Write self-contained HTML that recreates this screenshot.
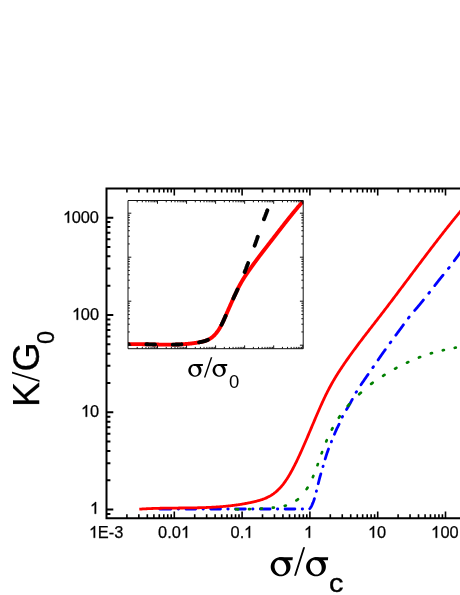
<!DOCTYPE html>
<html><head><meta charset="utf-8"><style>
html,body{margin:0;padding:0;background:#fff;}
body{width:460px;height:595px;position:relative;overflow:hidden;font-family:"Liberation Sans",sans-serif;color:#000;}
.t{position:absolute;white-space:nowrap;line-height:1;will-change:transform;}
.yl{font-size:16.4px;text-align:right;width:60px;left:39px;}
.xl{font-size:16.4px;text-align:center;width:60px;margin-left:-0.6px;}
.xl,.yl{-webkit-text-stroke:0.25px #000;}
</style></head><body>
<svg width="460" height="595" viewBox="0 0 460 595" style="position:absolute;left:0;top:0">
<rect width="460" height="595" fill="#fff"/>
<path d="M159.70,509.00 L160.20,509.00 L160.70,509.00 L161.20,509.00 L161.70,509.00 L162.19,509.00 L162.69,509.00 L163.19,509.00 L163.69,509.00 L164.19,509.00 L164.69,509.00 L165.19,509.00 L165.69,509.00 L166.19,509.00 L166.69,509.00 L167.19,509.00 L167.68,509.00 L168.18,509.00 L168.68,509.00 L169.18,509.00 L169.68,509.00 L170.18,509.00 L170.68,509.00 L171.18,509.00 L171.68,509.00 L172.17,509.00 L172.67,509.00 L173.17,509.00 L173.67,509.00 L174.17,509.00 L174.67,509.00 L175.17,509.00 L175.67,509.00 L176.17,509.00 L176.67,509.00 L177.16,509.00 L177.66,509.00 L178.16,509.00 L178.66,509.00 L179.16,509.00 L179.66,509.00 L180.16,509.00 L180.66,509.00 L181.16,509.00 L181.66,509.00 L182.15,509.00 L182.65,509.00 L183.15,509.00 L183.65,509.00 L184.15,509.00 L184.65,509.00 L185.15,509.00 L185.65,509.00 L186.15,509.00 L186.65,509.00 L187.14,509.00 L187.64,509.00 L188.14,509.00 L188.64,509.00 L189.14,509.00 L189.64,509.00 L190.14,509.00 L190.64,509.00 L191.14,509.00 L191.64,509.00 L192.13,509.00 L192.63,509.00 L193.13,509.00 L193.63,509.00 L194.13,509.00 L194.63,509.00 L195.13,509.00 L195.63,509.00 L196.13,509.00 L196.63,509.00 L197.12,509.00 L197.62,509.00 L198.12,509.00 L198.62,509.00 L199.12,509.00 L199.62,509.00 L200.12,509.00 L200.62,509.00 L201.12,509.00 L201.62,509.00 L202.11,509.00 L202.61,509.00 L203.11,509.00 L203.61,509.00 L204.11,509.00 L204.61,509.00 L205.11,509.00 L205.61,509.00 L206.11,509.00 L206.61,509.00 L207.10,509.00 L207.60,509.00 L208.10,509.00 L208.60,509.00 L209.10,509.00 L209.60,509.00 L210.10,509.00 L210.60,509.00 L211.10,509.00 L211.60,509.00 L212.09,509.00 L212.59,509.00 L213.09,509.00 L213.59,509.00 L214.09,509.00 L214.59,509.00 L215.09,509.00 L215.59,509.00 L216.09,509.00 L216.59,509.00 L217.08,509.00 L217.58,509.00 L218.08,509.00 L218.58,509.00 L219.08,509.00 L219.58,509.00 L220.08,509.00 L220.58,509.00 L221.08,509.00 L221.58,509.00 L222.07,509.00 L222.57,509.00 L223.07,509.00 L223.57,509.00 L224.07,509.00 L224.57,509.00 L225.07,509.00 L225.57,509.00 L226.07,509.00 L226.57,509.00 L227.06,509.00 L227.56,509.00 L228.06,509.00 L228.56,509.00 L229.06,509.00 L229.56,509.00 L230.06,509.00 L230.56,509.00 L231.06,509.00 L231.56,509.00 L232.05,509.00 L232.55,509.00 L233.05,509.00 L233.55,509.00 L234.05,509.00 L234.55,509.00 L235.05,509.00 L235.55,509.00 L236.05,509.00 L236.55,509.00 L237.04,509.00 L237.54,509.00 L238.04,509.00 L238.54,509.00 L239.04,509.00 L239.54,509.00 L240.04,509.00 L240.54,509.00 L241.04,509.00 L241.54,509.00 L242.03,509.00 L242.53,509.00 L243.03,509.00 L243.53,509.00 L244.03,509.00 L244.53,509.00 L245.03,509.00 L245.53,509.00 L246.03,509.00 L246.53,509.00 L247.02,509.00 L247.52,509.00 L248.02,509.00 L248.52,509.00 L249.02,509.00 L249.52,509.00 L250.02,509.00 L250.52,509.00 L251.02,509.00 L251.52,509.00 L252.01,509.00 L252.51,509.00 L253.01,509.00 L253.51,509.00 L254.01,509.00 L254.51,509.00 L255.01,509.00 L255.51,509.00 L256.01,509.00 L256.51,509.00 L257.00,509.00 L257.50,509.00 L258.00,509.00 L258.50,509.00 L259.00,509.00 L259.50,509.00 L260.00,509.00 L260.50,509.00 L261.00,509.00 L261.50,509.00 L262.00,509.00 L262.49,509.00 L262.99,509.00 L263.49,509.00 L263.99,509.00 L264.49,509.00 L264.99,509.00 L265.49,509.00 L265.99,509.00 L266.49,509.00 L266.98,509.00 L267.48,509.00 L267.98,509.00 L268.48,509.00 L268.98,509.00 L269.48,509.00 L269.98,509.00 L270.48,509.00 L270.98,509.00 L271.48,509.00 L271.97,509.00 L272.47,509.00 L272.97,509.00 L273.47,509.00 L273.97,509.00 L274.47,509.00 L274.97,509.00 L275.47,509.00 L275.97,509.00 L276.47,509.00 L276.96,509.00 L277.46,509.00 L277.96,509.00 L278.46,509.00 L278.96,509.00 L279.46,509.00 L279.96,509.00 L280.46,509.00 L280.96,509.00 L281.46,509.00 L281.95,509.00 L282.45,509.00 L282.95,509.00 L283.45,509.00 L283.95,509.00 L284.45,509.00 L284.95,509.00 L285.45,509.00 L285.95,509.00 L286.45,509.00 L286.94,509.00 L287.44,509.00 L287.94,509.00 L288.44,509.00 L288.94,509.00 L289.44,509.00 L289.94,509.00 L290.44,509.00 L290.94,509.00 L291.44,509.00 L291.93,509.00 L292.43,509.00 L292.93,509.00 L293.43,509.00 L293.93,509.00 L294.43,509.00 L294.93,509.00 L295.43,509.00 L295.93,509.00 L296.43,509.00 L296.92,509.00 L297.42,509.00 L297.92,509.00 L298.42,509.00 L298.92,509.00 L299.42,509.00 L299.92,509.00 L300.42,509.00 L300.92,509.00 L301.42,509.00 L301.91,509.00 L302.41,509.00 L302.91,509.00 L303.41,509.00 L303.91,509.00 L304.41,509.00 L304.91,509.00 L305.41,509.00 L305.91,509.00 L306.41,509.00 L306.90,509.00 L307.40,509.00 L307.90,509.00 L308.40,509.00 L308.90,509.00 L309.40,509.00 L309.77,508.62 L310.12,508.23 L310.44,507.82 L310.73,507.40 L311.00,506.95 L311.25,506.50 L311.49,506.03 L311.72,505.55 L311.94,505.07 L312.16,504.60 L312.37,504.12 L312.57,503.64 L312.78,503.16 L312.97,502.67 L313.17,502.19 L313.35,501.70 L313.54,501.21 L313.72,500.72 L313.89,500.22 L314.06,499.73 L314.22,499.23 L314.38,498.74 L314.54,498.24 L314.69,497.74 L314.84,497.24 L314.98,496.74 L315.12,496.23 L315.26,495.73 L315.39,495.22 L315.52,494.71 L315.65,494.21 L315.78,493.70 L315.91,493.19 L316.04,492.69 L316.17,492.18 L316.30,491.67 L316.43,491.17 L316.56,490.66 L316.69,490.15 L316.82,489.65 L316.95,489.14 L317.07,488.63 L317.19,488.13 L317.32,487.62 L317.44,487.11 L317.56,486.60 L317.68,486.09 L317.80,485.58 L317.92,485.07 L318.04,484.57 L318.16,484.06 L318.29,483.55 L318.41,483.04 L318.53,482.53 L318.65,482.02 L318.78,481.52 L318.91,481.01 L319.03,480.50 L319.16,480.00 L319.29,479.49 L319.42,478.99 L319.56,478.48 L319.69,477.98 L319.83,477.47 L319.97,476.97 L320.11,476.47 L320.25,475.96 L320.39,475.46 L320.54,474.96 L320.68,474.45 L320.83,473.95 L320.97,473.45 L321.12,472.95 L321.27,472.45 L321.41,471.95 L321.56,471.44 L321.71,470.94 L321.86,470.44 L322.01,469.94 L322.16,469.44 L322.31,468.94 L322.46,468.44 L322.60,467.94 L322.75,467.44 L322.90,466.93 L323.05,466.43 L323.20,465.93 L323.34,465.43 L323.49,464.93 L323.63,464.42 L323.78,463.92 L323.92,463.42 L324.07,462.92 L324.21,462.41 L324.35,461.91 L324.50,461.41 L324.64,460.90 L324.79,460.40 L324.93,459.90 L325.08,459.40 L325.23,458.90 L325.38,458.39 L325.53,457.89 L325.68,457.39 L325.83,456.89 L325.98,456.39 L326.13,455.89 L326.29,455.39 L326.45,454.90 L326.61,454.40 L326.77,453.90 L326.93,453.41 L327.09,452.91 L327.26,452.42 L327.43,451.93 L327.61,451.43 L327.78,450.94 L327.96,450.45 L328.14,449.96 L328.32,449.47 L328.51,448.98 L328.69,448.49 L328.88,448.01 L329.07,447.52 L329.26,447.03 L329.45,446.55 L329.65,446.06 L329.84,445.57 L330.04,445.09 L330.23,444.60 L330.43,444.12 L330.62,443.63 L330.82,443.15 L331.01,442.66 L331.21,442.18 L331.40,441.69 L331.60,441.21 L331.79,440.72 L331.99,440.24 L332.18,439.75 L332.37,439.26 L332.57,438.78 L332.76,438.29 L332.96,437.81 L333.15,437.32 L333.35,436.84 L333.55,436.35 L333.74,435.87 L333.94,435.38 L334.14,434.90 L334.34,434.42 L334.54,433.94 L334.74,433.45 L334.95,432.97 L335.15,432.49 L335.36,432.01 L335.57,431.53 L335.78,431.05 L335.99,430.58 L336.20,430.10 L336.41,429.62 L336.63,429.15 L336.85,428.68 L337.08,428.20 L337.31,427.74 L337.54,427.27 L337.78,426.80 L338.02,426.34 L338.26,425.87 L338.50,425.41 L338.74,424.94 L338.97,424.48 L339.20,424.01 L339.43,423.54 L339.65,423.06 L339.87,422.59 L340.08,422.11 L340.29,421.63 L340.49,421.15 L340.70,420.67 L340.90,420.18 L341.11,419.70 L341.32,419.22 L341.52,418.74 L341.73,418.26 L341.95,417.79 L342.16,417.31 L342.39,416.84 L342.61,416.37 L342.85,415.91 L343.09,415.44 L343.33,414.98 L343.58,414.52 L343.83,414.07 L344.08,413.61 L344.34,413.16 L344.60,412.71 L344.87,412.25 L345.13,411.80 L345.40,411.35 L345.67,410.91 L345.94,410.46 L346.21,410.01 L346.48,409.56 L346.76,409.12 L347.03,408.67 L347.30,408.22 L347.57,407.77 L347.84,407.33 L348.11,406.88 L348.38,406.43 L348.65,405.98 L348.91,405.53 L349.17,405.07 L349.43,404.62 L349.69,404.16 L349.94,403.71 L350.20,403.25 L350.45,402.79 L350.70,402.33 L350.94,401.87 L351.19,401.41 L351.44,400.95 L351.68,400.48 L351.93,400.02 L352.17,399.56 L352.41,399.10 L352.66,398.63 L352.90,398.17 L353.15,397.71 L353.39,397.24 L353.64,396.78 L353.88,396.32 L354.13,395.86 L354.38,395.40 L354.63,394.94 L354.88,394.49 L355.14,394.03 L355.39,393.57 L355.65,393.12 L355.91,392.67 L356.17,392.22 L356.44,391.77 L356.71,391.32 L356.98,390.88 L357.25,390.43 L357.53,389.99 L357.81,389.55 L358.09,389.11 L358.37,388.67 L358.65,388.23 L358.94,387.79 L359.22,387.36 L359.51,386.92 L359.80,386.49 L360.09,386.05 L360.39,385.62 L360.68,385.18 L360.97,384.75 L361.27,384.32 L361.56,383.89 L361.86,383.45 L362.16,383.02 L362.45,382.59 L362.75,382.16 L363.05,381.73 L363.34,381.30 L363.64,380.87 L363.93,380.43 L364.23,380.00 L364.52,379.57 L364.81,379.14 L365.11,378.71 L365.40,378.28 L365.70,377.84 L365.99,377.41 L366.29,376.98 L366.59,376.55 L366.89,376.12 L367.18,375.69 L367.48,375.26 L367.78,374.84 L368.08,374.41 L368.38,373.98 L368.68,373.55 L368.98,373.12 L369.28,372.69 L369.57,372.26 L369.87,371.84 L370.17,371.41 L370.47,370.98 L370.77,370.55 L371.07,370.12 L371.37,369.69 L371.67,369.26 L371.97,368.83 L372.27,368.41 L372.56,367.98 L372.86,367.55 L373.16,367.12 L373.45,366.69 L373.75,366.26 L374.05,365.82 L374.34,365.39 L374.64,364.96 L374.93,364.53 L375.23,364.10 L375.52,363.67 L375.82,363.24 L376.11,362.80 L376.41,362.37 L376.70,361.94 L376.99,361.51 L377.29,361.08 L377.58,360.64 L377.88,360.21 L378.17,359.78 L378.47,359.35 L378.76,358.92 L379.06,358.49 L379.35,358.06 L379.65,357.63 L379.95,357.20 L380.24,356.77 L380.54,356.34 L380.84,355.91 L381.14,355.48 L381.44,355.05 L381.74,354.62 L382.04,354.19 L382.34,353.76 L382.64,353.34 L382.94,352.91 L383.24,352.48 L383.54,352.06 L383.84,351.63 L384.15,351.21 L384.45,350.78 L384.75,350.35 L385.06,349.93 L385.36,349.50 L385.67,349.08 L385.97,348.66 L386.28,348.23 L386.58,347.81 L386.89,347.38 L387.19,346.96 L387.50,346.54 L387.81,346.11 L388.11,345.69 L388.42,345.26 L388.73,344.84 L389.03,344.42 L389.34,344.00 L389.65,343.57 L389.96,343.15 L390.26,342.73 L390.57,342.30 L390.88,341.88 L391.18,341.46 L391.49,341.04 L391.80,340.62 L392.11,340.19 L392.42,339.77 L392.73,339.35 L393.04,338.93 L393.35,338.51 L393.66,338.09 L393.97,337.67 L394.28,337.25 L394.59,336.83 L394.90,336.40 L395.21,335.98 L395.52,335.56 L395.83,335.14 L396.14,334.72 L396.45,334.30 L396.76,333.88 L397.07,333.46 L397.38,333.04 L397.69,332.62 L398.00,332.20 L398.32,331.78 L398.63,331.36 L398.94,330.94 L399.25,330.52 L399.56,330.10 L399.87,329.68 L400.18,329.26 L400.49,328.84 L400.80,328.42 L401.10,327.99 L401.41,327.57 L401.72,327.15 L402.03,326.72 L402.33,326.30 L402.64,325.88 L402.94,325.45 L403.25,325.03 L403.56,324.60 L403.86,324.18 L404.17,323.76 L404.48,323.33 L404.78,322.91 L405.09,322.49 L405.40,322.06 L405.71,321.64 L406.02,321.22 L406.33,320.80 L406.64,320.38 L406.95,319.96 L407.26,319.54 L407.58,319.12 L407.89,318.71 L408.21,318.29 L408.53,317.88 L408.84,317.46 L409.17,317.05 L409.49,316.64 L409.81,316.23 L410.14,315.83 L410.47,315.42 L410.80,315.02 L411.13,314.61 L411.46,314.21 L411.80,313.81 L412.13,313.41 L412.47,313.01 L412.81,312.61 L413.15,312.22 L413.49,311.82 L413.83,311.42 L414.17,311.03 L414.52,310.63 L414.86,310.24 L415.20,309.84 L415.54,309.45 L415.89,309.05 L416.23,308.66 L416.57,308.26 L416.91,307.86 L417.25,307.47 L417.59,307.07 L417.93,306.67 L418.27,306.27 L418.61,305.87 L418.94,305.47 L419.28,305.07 L419.61,304.67 L419.94,304.26 L420.27,303.86 L420.60,303.46 L420.93,303.05 L421.26,302.65 L421.59,302.24 L421.92,301.83 L422.25,301.43 L422.58,301.02 L422.91,300.61 L423.23,300.21 L423.56,299.80 L423.89,299.39 L424.22,298.98 L424.54,298.58 L424.87,298.17 L425.19,297.76 L425.52,297.35 L425.85,296.94 L426.17,296.53 L426.50,296.12 L426.82,295.71 L427.15,295.30 L427.47,294.89 L427.79,294.48 L428.12,294.07 L428.44,293.66 L428.77,293.25 L429.09,292.84 L429.42,292.43 L429.74,292.02 L430.06,291.61 L430.39,291.20 L430.71,290.79 L431.03,290.38 L431.35,289.97 L431.67,289.55 L431.99,289.14 L432.31,288.73 L432.63,288.32 L432.95,287.90 L433.27,287.49 L433.59,287.07 L433.91,286.66 L434.23,286.25 L434.55,285.83 L434.87,285.42 L435.19,285.01 L435.51,284.59 L435.83,284.18 L436.15,283.77 L436.47,283.35 L436.79,282.94 L437.11,282.53 L437.43,282.12 L437.76,281.71 L438.08,281.29 L438.40,280.88 L438.73,280.47 L439.05,280.06 L439.37,279.65 L439.70,279.25 L440.03,278.84 L440.36,278.43 L440.68,278.02 L441.01,277.62 L441.34,277.21 L441.67,276.81 L442.00,276.40 L442.33,276.00 L442.67,275.59 L443.00,275.19 L443.33,274.79 L443.66,274.38 L443.99,273.98 L444.32,273.57 L444.66,273.17 L444.99,272.76 L445.32,272.36 L445.65,271.95 L445.98,271.55 L446.31,271.14 L446.64,270.74 L446.96,270.33 L447.29,269.92 L447.62,269.51 L447.94,269.10 L448.27,268.69 L448.59,268.28 L448.91,267.87 L449.23,267.46 L449.55,267.05 L449.87,266.63 L450.19,266.22 L450.50,265.80 L450.82,265.39 L451.13,264.97 L451.45,264.55 L451.76,264.13 L452.07,263.71 L452.38,263.29 L452.70,262.87 L453.01,262.45 L453.32,262.03 L453.63,261.61 L453.94,261.19 L454.25,260.77 L454.56,260.35 L454.87,259.93 L455.18,259.51 L455.49,259.09 L455.80,258.67 L456.11,258.25 L456.42,257.82 L456.73,257.40 L457.04,256.98 L457.35,256.56 L457.66,256.15 L457.97,255.72 L458.28,255.30 L458.59,254.88 L458.90,254.46 L459.21,254.04 L459.53,253.62 L459.84,253.21 L460.16,252.79 L460.48,252.38 L460.80,251.96 L461.12,251.55 L461.44,251.14 L461.76,250.72 L462.08,250.31 L462.40,249.90 L462.72,249.49 L463.05,249.08 L463.37,248.67 L463.70,248.26 L464.02,247.85 L464.35,247.44 L464.68,247.04 L465.00,246.63 L465.33,246.22 L465.66,245.82 L465.99,245.41 L466.33,245.01 L466.66,244.60 L466.99,244.20 L467.33,243.80 L467.66,243.40 L468.00,243.00" fill="none" stroke="#0000ff" stroke-width="2.8" stroke-linecap="round" stroke-linejoin="round" stroke-dasharray="0.00 1.40 9.80 7.30 0.40 7.30 9.80 7.30 0.40 7.30 9.80 7.30 0.40 7.30 9.80 7.30 0.40 7.30 9.80 7.30 0.40 7.30 9.80 7.30 0.40 7.30 11.11 7.46 0.50 7.43 10.24 7.49 0.53 7.48 10.48 7.65 0.65 7.65 11.09 7.70 0.75 7.99 11.69 7.92 0.92 8.17 12.49 8.29 1.09 8.25 12.58 8.35 1.16 8.39 12.82 8.39 1.25 8.67 13.62 8.55 1.28 8.50 13.29 8.60 1.26 8.42 12.95 8.58 0.94 50.00"/>
<path d="M235.80,509.30 L236.18,509.30 L236.57,509.30 L236.95,509.30 L237.34,509.30 L237.72,509.30 L238.11,509.30 L238.49,509.30 L238.87,509.30 L239.26,509.30 L239.64,509.29 L240.03,509.29 L240.41,509.29 L240.79,509.28 L241.18,509.28 L241.56,509.27 L241.95,509.27 L242.33,509.26 L242.72,509.25 L243.10,509.25 L243.48,509.24 L243.87,509.23 L244.25,509.22 L244.64,509.22 L245.02,509.21 L245.41,509.20 L245.79,509.19 L246.17,509.18 L246.56,509.17 L246.94,509.16 L247.33,509.15 L247.71,509.14 L248.09,509.13 L248.48,509.13 L248.86,509.12 L249.25,509.11 L249.63,509.10 L250.01,509.09 L250.40,509.08 L250.78,509.06 L251.17,509.05 L251.55,509.04 L251.93,509.03 L252.32,509.01 L252.70,509.00 L253.09,508.98 L253.47,508.97 L253.85,508.95 L254.24,508.94 L254.62,508.92 L255.01,508.90 L255.39,508.89 L255.77,508.87 L256.16,508.85 L256.54,508.83 L256.93,508.81 L257.31,508.79 L257.69,508.77 L258.08,508.75 L258.46,508.73 L258.84,508.71 L259.23,508.69 L259.61,508.67 L259.99,508.65 L260.38,508.63 L260.76,508.61 L261.15,508.59 L261.53,508.56 L261.91,508.54 L262.30,508.52 L262.68,508.49 L263.06,508.47 L263.45,508.44 L263.83,508.42 L264.21,508.39 L264.60,508.37 L264.98,508.34 L265.36,508.31 L265.75,508.28 L266.13,508.25 L266.51,508.22 L266.90,508.19 L267.28,508.16 L267.66,508.13 L268.05,508.10 L268.43,508.07 L268.81,508.04 L269.20,508.00 L269.58,507.97 L269.96,507.93 L270.34,507.90 L270.73,507.86 L271.11,507.82 L271.49,507.79 L271.87,507.75 L272.26,507.71 L272.64,507.67 L273.02,507.63 L273.40,507.59 L273.78,507.55 L274.16,507.51 L274.55,507.46 L274.93,507.42 L275.32,507.37 L275.70,507.33 L276.08,507.28 L276.47,507.23 L276.86,507.18 L277.24,507.13 L277.63,507.08 L278.01,507.03 L278.40,506.97 L278.78,506.92 L279.16,506.86 L279.55,506.80 L279.93,506.74 L280.31,506.68 L280.69,506.62 L281.07,506.55 L281.45,506.48 L281.83,506.42 L282.21,506.35 L282.58,506.27 L282.95,506.20 L283.33,506.12 L283.70,506.04 L284.07,505.96 L284.43,505.88 L284.80,505.80 L285.16,505.71 L285.53,505.62 L285.89,505.52 L286.25,505.42 L286.62,505.31 L286.98,505.19 L287.35,505.07 L287.72,504.94 L288.08,504.81 L288.45,504.67 L288.81,504.53 L289.18,504.38 L289.54,504.23 L289.90,504.07 L290.26,503.91 L290.62,503.74 L290.98,503.57 L291.34,503.40 L291.69,503.22 L292.05,503.04 L292.40,502.86 L292.74,502.67 L293.09,502.48 L293.43,502.29 L293.77,502.09 L294.10,501.90 L294.43,501.70 L294.76,501.49 L295.09,501.29 L295.41,501.09 L295.72,500.88 L296.03,500.67 L296.34,500.46 L296.64,500.25 L296.94,500.04 L297.23,499.83 L297.52,499.61 L297.81,499.39 L298.10,499.16 L298.38,498.92 L298.67,498.68 L298.95,498.43 L299.23,498.17 L299.51,497.92 L299.78,497.65 L300.06,497.38 L300.33,497.11 L300.60,496.83 L300.87,496.55 L301.14,496.27 L301.40,495.98 L301.66,495.69 L301.92,495.39 L302.18,495.09 L302.44,494.79 L302.69,494.49 L302.94,494.18 L303.19,493.87 L303.44,493.56 L303.68,493.25 L303.92,492.93 L304.16,492.62 L304.40,492.30 L304.63,491.98 L304.87,491.66 L305.10,491.35 L305.32,491.03 L305.55,490.71 L305.77,490.39 L305.99,490.07 L306.21,489.75 L306.42,489.43 L306.63,489.11 L306.84,488.79 L307.05,488.48 L307.25,488.16 L307.46,487.84 L307.65,487.52 L307.85,487.20 L308.05,486.87 L308.24,486.54 L308.43,486.21 L308.62,485.88 L308.80,485.55 L308.99,485.21 L309.17,484.87 L309.35,484.53 L309.53,484.19 L309.70,483.85 L309.88,483.50 L310.05,483.16 L310.22,482.81 L310.39,482.46 L310.56,482.11 L310.73,481.76 L310.90,481.41 L311.06,481.06 L311.22,480.71 L311.39,480.36 L311.55,480.00 L311.71,479.65 L311.87,479.30 L312.03,478.94 L312.18,478.59 L312.34,478.24 L312.49,477.88 L312.65,477.53 L312.80,477.18 L312.96,476.83 L313.11,476.47 L313.26,476.12 L313.41,475.77 L313.56,475.42 L313.71,475.06 L313.86,474.71 L314.00,474.35 L314.14,474.00 L314.29,473.64 L314.43,473.28 L314.57,472.93 L314.71,472.57 L314.84,472.21 L314.98,471.85 L315.12,471.49 L315.25,471.13 L315.39,470.77 L315.52,470.41 L315.66,470.05 L315.79,469.69 L315.92,469.33 L316.05,468.97 L316.19,468.60 L316.32,468.24 L316.45,467.88 L316.58,467.52 L316.71,467.16 L316.84,466.80 L316.98,466.44 L317.11,466.07 L317.24,465.71 L317.37,465.35 L317.50,464.99 L317.64,464.63 L317.77,464.27 L317.90,463.91 L318.03,463.55 L318.15,463.18 L318.28,462.82 L318.41,462.46 L318.54,462.10 L318.66,461.73 L318.79,461.37 L318.92,461.01 L319.04,460.65 L319.17,460.28 L319.29,459.92 L319.42,459.56 L319.54,459.19 L319.67,458.83 L319.79,458.47 L319.92,458.10 L320.04,457.74 L320.17,457.38 L320.30,457.01 L320.42,456.65 L320.55,456.29 L320.68,455.92 L320.80,455.56 L320.93,455.20 L321.06,454.84 L321.19,454.48 L321.32,454.11 L321.45,453.75 L321.58,453.39 L321.71,453.03 L321.85,452.67 L321.98,452.31 L322.12,451.95 L322.25,451.59 L322.38,451.23 L322.52,450.87 L322.65,450.51 L322.79,450.15 L322.92,449.79 L323.06,449.43 L323.19,449.07 L323.33,448.71 L323.47,448.35 L323.60,447.99 L323.74,447.63 L323.88,447.27 L324.02,446.92 L324.16,446.56 L324.30,446.20 L324.44,445.84 L324.58,445.48 L324.72,445.13 L324.86,444.77 L325.00,444.41 L325.15,444.06 L325.29,443.70 L325.44,443.34 L325.58,442.99 L325.73,442.63 L325.87,442.28 L326.02,441.92 L326.17,441.57 L326.32,441.22 L326.47,440.87 L326.62,440.51 L326.78,440.16 L326.93,439.81 L327.08,439.46 L327.24,439.10 L327.39,438.75 L327.55,438.40 L327.70,438.05 L327.86,437.70 L328.02,437.35 L328.18,437.00 L328.34,436.65 L328.50,436.30 L328.66,435.95 L328.82,435.60 L328.98,435.25 L329.15,434.90 L329.31,434.55 L329.48,434.21 L329.64,433.86 L329.81,433.51 L329.98,433.17 L330.15,432.82 L330.32,432.47 L330.49,432.13 L330.66,431.79 L330.83,431.44 L331.00,431.10 L331.18,430.76 L331.35,430.42 L331.53,430.08 L331.71,429.74 L331.88,429.40 L332.06,429.06 L332.24,428.72 L332.42,428.38 L332.61,428.05 L332.79,427.71 L332.97,427.37 L333.16,427.04 L333.35,426.70 L333.53,426.36 L333.72,426.03 L333.91,425.70 L334.10,425.36 L334.30,425.03 L334.49,424.69 L334.68,424.36 L334.88,424.03 L335.07,423.70 L335.27,423.37 L335.47,423.04 L335.67,422.71 L335.87,422.38 L336.07,422.05 L336.27,421.72 L336.47,421.39 L336.68,421.07 L336.88,420.74 L337.09,420.41 L337.30,420.09 L337.50,419.77 L337.71,419.44 L337.92,419.12 L338.13,418.80 L338.34,418.48 L338.55,418.16 L338.76,417.84 L338.98,417.52 L339.19,417.20 L339.41,416.88 L339.62,416.57 L339.84,416.25 L340.06,415.94 L340.27,415.62 L340.49,415.31 L340.72,415.00 L340.94,414.68 L341.16,414.37 L341.39,414.06 L341.61,413.75 L341.84,413.44 L342.07,413.13 L342.30,412.82 L342.53,412.51 L342.76,412.20 L342.99,411.89 L343.22,411.59 L343.46,411.28 L343.69,410.97 L343.93,410.67 L344.16,410.36 L344.40,410.06 L344.64,409.76 L344.88,409.46 L345.12,409.16 L345.36,408.85 L345.61,408.56 L345.85,408.26 L346.09,407.96 L346.34,407.66 L346.58,407.37 L346.83,407.07 L347.08,406.78 L347.32,406.48 L347.57,406.19 L347.82,405.90 L348.07,405.61 L348.32,405.32 L348.57,405.03 L348.82,404.74 L349.08,404.46 L349.33,404.17 L349.59,403.89 L349.84,403.60 L350.10,403.32 L350.36,403.04 L350.62,402.76 L350.88,402.47 L351.14,402.19 L351.41,401.91 L351.67,401.63 L351.94,401.36 L352.20,401.08 L352.47,400.80 L352.74,400.53 L353.01,400.25 L353.28,399.98 L353.55,399.70 L353.82,399.43 L354.09,399.15 L354.36,398.88 L354.64,398.61 L354.91,398.34 L355.19,398.07 L355.46,397.80 L355.74,397.53 L356.01,397.26 L356.29,396.99 L356.57,396.73 L356.85,396.46 L357.12,396.19 L357.40,395.93 L357.68,395.66 L357.96,395.40 L358.24,395.14 L358.52,394.87 L358.80,394.61 L359.08,394.35 L359.36,394.08 L359.64,393.82 L359.92,393.56 L360.21,393.30 L360.49,393.04 L360.77,392.78 L361.05,392.52 L361.34,392.26 L361.62,392.00 L361.90,391.75 L362.19,391.49 L362.47,391.23 L362.76,390.97 L363.05,390.71 L363.33,390.46 L363.62,390.20 L363.91,389.95 L364.20,389.69 L364.49,389.44 L364.78,389.18 L365.07,388.93 L365.36,388.68 L365.65,388.42 L365.94,388.17 L366.23,387.92 L366.53,387.67 L366.82,387.42 L367.11,387.18 L367.41,386.93 L367.70,386.68 L368.00,386.44 L368.30,386.19 L368.60,385.95 L368.89,385.71 L369.19,385.47 L369.49,385.22 L369.79,384.99 L370.09,384.75 L370.39,384.51 L370.70,384.27 L371.00,384.04 L371.30,383.81 L371.61,383.57 L371.91,383.34 L372.22,383.11 L372.52,382.88 L372.83,382.66 L373.14,382.43 L373.45,382.20 L373.76,381.98 L374.07,381.76 L374.39,381.53 L374.70,381.31 L375.01,381.09 L375.33,380.87 L375.65,380.66 L375.96,380.44 L376.28,380.22 L376.60,380.01 L376.92,379.79 L377.24,379.58 L377.56,379.36 L377.88,379.15 L378.20,378.94 L378.52,378.73 L378.84,378.52 L379.17,378.31 L379.49,378.10 L379.81,377.89 L380.14,377.68 L380.46,377.47 L380.79,377.26 L381.11,377.06 L381.44,376.85 L381.76,376.65 L382.09,376.44 L382.41,376.23 L382.74,376.03 L383.06,375.83 L383.39,375.62 L383.71,375.42 L384.04,375.21 L384.36,375.01 L384.69,374.81 L385.02,374.60 L385.34,374.40 L385.67,374.20 L386.00,374.00 L386.32,373.80 L386.65,373.60 L386.98,373.40 L387.31,373.20 L387.64,373.00 L387.97,372.80 L388.30,372.60 L388.63,372.40 L388.96,372.21 L389.29,372.01 L389.62,371.82 L389.95,371.62 L390.28,371.43 L390.61,371.23 L390.95,371.04 L391.28,370.84 L391.61,370.65 L391.94,370.46 L392.28,370.27 L392.61,370.08 L392.95,369.89 L393.28,369.70 L393.62,369.51 L393.95,369.33 L394.29,369.14 L394.62,368.95 L394.96,368.77 L395.30,368.58 L395.63,368.40 L395.97,368.22 L396.31,368.03 L396.65,367.85 L396.98,367.67 L397.32,367.49 L397.66,367.31 L398.00,367.13 L398.34,366.95 L398.68,366.78 L399.02,366.60 L399.37,366.42 L399.71,366.25 L400.05,366.07 L400.39,365.90 L400.73,365.72 L401.08,365.55 L401.42,365.37 L401.76,365.20 L402.11,365.03 L402.45,364.86 L402.80,364.69 L403.14,364.52 L403.49,364.35 L403.83,364.18 L404.18,364.01 L404.53,363.85 L404.87,363.68 L405.22,363.51 L405.57,363.35 L405.91,363.18 L406.26,363.02 L406.61,362.86 L406.96,362.69 L407.30,362.53 L407.65,362.37 L408.00,362.21 L408.35,362.05 L408.70,361.89 L409.05,361.73 L409.40,361.57 L409.75,361.41 L410.10,361.25 L410.45,361.09 L410.80,360.93 L411.15,360.77 L411.50,360.62 L411.85,360.46 L412.20,360.30 L412.55,360.15 L412.91,359.99 L413.26,359.84 L413.61,359.69 L413.96,359.53 L414.32,359.38 L414.67,359.23 L415.02,359.08 L415.38,358.93 L415.73,358.78 L416.09,358.63 L416.44,358.49 L416.80,358.34 L417.16,358.20 L417.51,358.05 L417.87,357.91 L418.23,357.77 L418.58,357.63 L418.94,357.49 L419.30,357.35 L419.66,357.22 L420.01,357.08 L420.37,356.95 L420.73,356.81 L421.09,356.68 L421.45,356.54 L421.81,356.41 L422.17,356.28 L422.54,356.15 L422.90,356.02 L423.26,355.89 L423.62,355.76 L423.98,355.63 L424.35,355.51 L424.71,355.38 L425.08,355.25 L425.44,355.13 L425.80,355.01 L426.17,354.88 L426.53,354.76 L426.90,354.64 L427.26,354.52 L427.63,354.40 L427.99,354.28 L428.36,354.16 L428.73,354.05 L429.09,353.93 L429.46,353.82 L429.83,353.70 L430.19,353.59 L430.56,353.48 L430.93,353.37 L431.30,353.26 L431.67,353.15 L432.03,353.04 L432.40,352.94 L432.77,352.83 L433.14,352.73 L433.51,352.62 L433.88,352.52 L434.25,352.42 L434.62,352.32 L434.99,352.21 L435.36,352.11 L435.73,352.01 L436.11,351.92 L436.48,351.82 L436.85,351.72 L437.22,351.62 L437.59,351.53 L437.97,351.43 L438.34,351.34 L438.71,351.24 L439.09,351.15 L439.46,351.06 L439.83,350.97 L440.21,350.87 L440.58,350.78 L440.95,350.69 L441.33,350.61 L441.70,350.52 L442.07,350.43 L442.45,350.34 L442.82,350.26 L443.20,350.17 L443.57,350.08 L443.95,350.00 L444.32,349.91 L444.70,349.83 L445.07,349.75 L445.45,349.67 L445.82,349.58 L446.20,349.50 L446.57,349.42 L446.95,349.34 L447.32,349.26 L447.70,349.18 L448.08,349.10 L448.45,349.02 L448.83,348.95 L449.21,348.87 L449.58,348.79 L449.96,348.72 L450.34,348.64 L450.71,348.57 L451.09,348.49 L451.47,348.42 L451.84,348.35 L452.22,348.27 L452.60,348.20 L452.98,348.13 L453.35,348.06 L453.73,347.99 L454.11,347.92 L454.49,347.85 L454.87,347.78 L455.24,347.71 L455.62,347.64 L456.00,347.57 L456.38,347.51 L456.76,347.44 L457.13,347.37 L457.51,347.31 L457.89,347.24 L458.27,347.18 L458.65,347.11 L459.03,347.05 L459.41,346.98 L459.78,346.92 L460.16,346.86 L460.54,346.79 L460.92,346.73 L461.30,346.67 L461.68,346.61 L462.06,346.55 L462.44,346.49 L462.82,346.43 L463.20,346.37 L463.58,346.31 L463.96,346.25 L464.34,346.19 L464.72,346.13 L465.10,346.08 L465.48,346.02 L465.86,345.96 L466.24,345.91 L466.62,345.85 L467.00,345.80" fill="none" stroke="#008000" stroke-width="2.7" stroke-linecap="round" stroke-dasharray="0.00 1.35 1.00 10.90 1.00 10.91 1.01 10.93 1.02 11.00 1.12 11.85 1.93 13.38 1.69 11.85 1.33 11.46 1.23 11.38 1.24 11.50 1.33 11.77 1.49 12.28 1.77 13.06 2.22 14.09 2.34 13.49 1.93 12.55 1.66 12.22 1.51 11.87 1.38 11.63 1.26 11.36 1.16 11.17 1.10 11.07 1.06 11.01 0.36 50.00"/>
<path d="M139.30,509.18 L139.85,509.15 L140.39,509.11 L140.94,509.07 L141.48,509.04 L142.03,509.00 L142.57,508.97 L143.12,508.94 L143.66,508.90 L144.21,508.87 L144.75,508.84 L145.30,508.81 L145.84,508.78 L146.39,508.76 L146.94,508.73 L147.48,508.70 L148.03,508.68 L148.57,508.65 L149.12,508.63 L149.66,508.60 L150.21,508.58 L150.75,508.56 L151.30,508.54 L151.84,508.52 L152.39,508.49 L152.94,508.48 L153.48,508.46 L154.03,508.44 L154.57,508.42 L155.12,508.40 L155.66,508.39 L156.21,508.37 L156.75,508.35 L157.30,508.34 L157.84,508.32 L158.39,508.31 L158.93,508.30 L159.48,508.28 L160.03,508.27 L160.57,508.26 L161.12,508.25 L161.66,508.24 L162.21,508.22 L162.75,508.21 L163.30,508.20 L163.84,508.19 L164.39,508.18 L164.93,508.18 L165.48,508.17 L166.03,508.16 L166.57,508.15 L167.12,508.14 L167.66,508.13 L168.21,508.13 L168.75,508.12 L169.30,508.11 L169.84,508.11 L170.39,508.10 L170.93,508.09 L171.48,508.09 L172.02,508.08 L172.57,508.08 L173.12,508.07 L173.66,508.07 L174.21,508.06 L174.75,508.06 L175.30,508.05 L175.84,508.05 L176.39,508.04 L176.93,508.04 L177.48,508.03 L178.02,508.03 L178.57,508.02 L179.11,508.02 L179.66,508.01 L180.21,508.01 L180.75,508.00 L181.30,508.00 L181.84,507.99 L182.39,507.99 L182.93,507.98 L183.48,507.98 L184.02,507.97 L184.57,507.97 L185.11,507.96 L185.66,507.96 L186.21,507.95 L186.75,507.95 L187.30,507.94 L187.84,507.93 L188.39,507.93 L188.93,507.92 L189.48,507.91 L190.02,507.91 L190.57,507.90 L191.11,507.89 L191.66,507.88 L192.20,507.87 L192.75,507.87 L193.30,507.86 L193.84,507.85 L194.39,507.84 L194.93,507.83 L195.48,507.82 L196.02,507.81 L196.57,507.80 L197.11,507.78 L197.66,507.77 L198.20,507.76 L198.75,507.75 L199.29,507.73 L199.84,507.72 L200.39,507.70 L200.93,507.69 L201.48,507.67 L202.02,507.66 L202.57,507.64 L203.11,507.62 L203.66,507.61 L204.20,507.59 L204.75,507.57 L205.29,507.55 L205.84,507.53 L206.39,507.51 L206.93,507.49 L207.48,507.47 L208.02,507.44 L208.57,507.42 L209.11,507.40 L209.66,507.37 L210.20,507.35 L210.75,507.32 L211.29,507.29 L211.84,507.26 L212.38,507.24 L212.93,507.21 L213.48,507.18 L214.02,507.14 L214.57,507.11 L215.11,507.08 L215.66,507.05 L216.20,507.01 L216.75,506.98 L217.29,506.94 L217.84,506.90 L218.38,506.87 L218.93,506.83 L219.48,506.79 L220.02,506.75 L220.57,506.70 L221.11,506.66 L221.66,506.62 L222.20,506.57 L222.75,506.53 L223.29,506.48 L223.84,506.43 L224.38,506.38 L224.93,506.33 L225.47,506.28 L226.02,506.23 L226.57,506.18 L227.11,506.12 L227.66,506.07 L228.20,506.01 L228.75,505.95 L229.29,505.89 L229.84,505.83 L230.38,505.77 L230.93,505.71 L231.47,505.64 L232.02,505.58 L232.56,505.51 L233.11,505.44 L233.66,505.37 L234.20,505.30 L234.75,505.23 L235.29,505.16 L235.84,505.08 L236.38,505.01 L236.93,504.93 L237.47,504.85 L238.02,504.77 L238.56,504.69 L239.11,504.61 L239.66,504.52 L240.20,504.44 L240.75,504.35 L241.29,504.26 L241.84,504.17 L242.38,504.08 L242.93,503.99 L243.47,503.90 L244.02,503.80 L244.56,503.70 L245.11,503.60 L245.65,503.50 L246.20,503.40 L246.75,503.30 L247.29,503.19 L247.84,503.08 L248.38,502.97 L248.93,502.86 L249.47,502.75 L250.02,502.64 L250.56,502.52 L251.11,502.41 L251.65,502.29 L252.20,502.17 L252.75,502.05 L253.29,501.92 L253.84,501.80 L254.38,501.67 L254.93,501.54 L255.47,501.41 L256.02,501.27 L256.56,501.14 L257.11,501.00 L257.65,500.86 L258.20,500.71 L258.74,500.56 L259.29,500.41 L259.84,500.25 L260.38,500.09 L260.93,499.92 L261.47,499.75 L262.02,499.57 L262.56,499.38 L263.11,499.19 L263.65,498.99 L264.20,498.78 L264.74,498.57 L265.29,498.34 L265.83,498.11 L266.38,497.87 L266.93,497.62 L267.47,497.36 L268.02,497.09 L268.56,496.81 L269.11,496.52 L269.65,496.22 L270.20,495.91 L270.74,495.58 L271.29,495.25 L271.83,494.90 L272.38,494.54 L272.93,494.16 L273.47,493.78 L274.02,493.37 L274.56,492.96 L275.11,492.53 L275.65,492.08 L276.20,491.62 L276.74,491.14 L277.29,490.65 L277.83,490.14 L278.38,489.62 L278.92,489.08 L279.47,488.52 L280.02,487.94 L280.56,487.35 L281.11,486.73 L281.65,486.10 L282.20,485.45 L282.74,484.78 L283.29,484.09 L283.83,483.37 L284.38,482.64 L284.92,481.89 L285.47,481.12 L286.02,480.32 L286.56,479.51 L287.11,478.67 L287.65,477.81 L288.20,476.94 L288.74,476.04 L289.29,475.13 L289.83,474.20 L290.38,473.25 L290.92,472.28 L291.47,471.30 L292.01,470.30 L292.56,469.29 L293.11,468.26 L293.65,467.21 L294.20,466.15 L294.74,465.07 L295.29,463.98 L295.83,462.88 L296.38,461.77 L296.92,460.64 L297.47,459.50 L298.01,458.35 L298.56,457.19 L299.10,456.01 L299.65,454.83 L300.20,453.64 L300.74,452.44 L301.29,451.22 L301.83,450.00 L302.38,448.78 L302.92,447.54 L303.47,446.30 L304.01,445.05 L304.56,443.79 L305.10,442.53 L305.65,441.26 L306.20,439.99 L306.74,438.71 L307.29,437.43 L307.83,436.15 L308.38,434.86 L308.92,433.57 L309.47,432.28 L310.01,430.98 L310.56,429.69 L311.10,428.39 L311.65,427.10 L312.19,425.80 L312.74,424.51 L313.29,423.21 L313.83,421.92 L314.38,420.63 L314.92,419.34 L315.47,418.06 L316.01,416.78 L316.56,415.51 L317.10,414.24 L317.65,412.97 L318.19,411.71 L318.74,410.46 L319.28,409.21 L319.83,407.98 L320.38,406.75 L320.92,405.52 L321.47,404.31 L322.01,403.10 L322.56,401.91 L323.10,400.73 L323.65,399.55 L324.19,398.39 L324.74,397.24 L325.28,396.10 L325.83,394.98 L326.38,393.86 L326.92,392.76 L327.47,391.68 L328.01,390.61 L328.56,389.55 L329.10,388.51 L329.65,387.49 L330.19,386.47 L330.74,385.47 L331.28,384.48 L331.83,383.50 L332.37,382.54 L332.92,381.58 L333.47,380.64 L334.01,379.71 L334.56,378.79 L335.10,377.87 L335.65,376.97 L336.19,376.08 L336.74,375.19 L337.28,374.32 L337.83,373.45 L338.37,372.59 L338.92,371.74 L339.47,370.90 L340.01,370.06 L340.56,369.23 L341.10,368.40 L341.65,367.59 L342.19,366.77 L342.74,365.96 L343.28,365.16 L343.83,364.36 L344.37,363.57 L344.92,362.77 L345.46,361.99 L346.01,361.20 L346.56,360.42 L347.10,359.64 L347.65,358.86 L348.19,358.09 L348.74,357.32 L349.28,356.56 L349.83,355.79 L350.37,355.03 L350.92,354.27 L351.46,353.52 L352.01,352.77 L352.55,352.02 L353.10,351.27 L353.65,350.52 L354.19,349.78 L354.74,349.04 L355.28,348.30 L355.83,347.56 L356.37,346.83 L356.92,346.10 L357.46,345.37 L358.01,344.64 L358.55,343.91 L359.10,343.19 L359.65,342.46 L360.19,341.74 L360.74,341.02 L361.28,340.30 L361.83,339.59 L362.37,338.87 L362.92,338.16 L363.46,337.44 L364.01,336.73 L364.55,336.02 L365.10,335.31 L365.64,334.60 L366.19,333.89 L366.74,333.19 L367.28,332.48 L367.83,331.77 L368.37,331.07 L368.92,330.37 L369.46,329.66 L370.01,328.96 L370.55,328.25 L371.10,327.55 L371.64,326.85 L372.19,326.15 L372.74,325.44 L373.28,324.74 L373.83,324.04 L374.37,323.34 L374.92,322.64 L375.46,321.93 L376.01,321.23 L376.55,320.53 L377.10,319.82 L377.64,319.12 L378.19,318.41 L378.73,317.71 L379.28,317.00 L379.83,316.30 L380.37,315.59 L380.92,314.88 L381.46,314.17 L382.01,313.46 L382.55,312.75 L383.10,312.04 L383.64,311.33 L384.19,310.62 L384.73,309.90 L385.28,309.19 L385.82,308.48 L386.37,307.76 L386.92,307.04 L387.46,306.33 L388.01,305.61 L388.55,304.89 L389.10,304.18 L389.64,303.46 L390.19,302.74 L390.73,302.02 L391.28,301.30 L391.82,300.58 L392.37,299.86 L392.92,299.13 L393.46,298.41 L394.01,297.69 L394.55,296.97 L395.10,296.24 L395.64,295.52 L396.19,294.80 L396.73,294.07 L397.28,293.35 L397.82,292.62 L398.37,291.90 L398.91,291.17 L399.46,290.44 L400.01,289.72 L400.55,288.99 L401.10,288.27 L401.64,287.54 L402.19,286.81 L402.73,286.08 L403.28,285.36 L403.82,284.63 L404.37,283.90 L404.91,283.17 L405.46,282.45 L406.01,281.72 L406.55,280.99 L407.10,280.26 L407.64,279.54 L408.19,278.81 L408.73,278.08 L409.28,277.35 L409.82,276.62 L410.37,275.90 L410.91,275.17 L411.46,274.44 L412.00,273.71 L412.55,272.98 L413.10,272.26 L413.64,271.53 L414.19,270.80 L414.73,270.08 L415.28,269.35 L415.82,268.62 L416.37,267.90 L416.91,267.17 L417.46,266.44 L418.00,265.72 L418.55,264.99 L419.09,264.27 L419.64,263.54 L420.19,262.82 L420.73,262.10 L421.28,261.37 L421.82,260.65 L422.37,259.93 L422.91,259.20 L423.46,258.48 L424.00,257.76 L424.55,257.04 L425.09,256.32 L425.64,255.60 L426.19,254.88 L426.73,254.16 L427.28,253.44 L427.82,252.72 L428.37,252.01 L428.91,251.29 L429.46,250.57 L430.00,249.86 L430.55,249.14 L431.09,248.43 L431.64,247.71 L432.18,247.00 L432.73,246.29 L433.28,245.58 L433.82,244.87 L434.37,244.15 L434.91,243.45 L435.46,242.74 L436.00,242.03 L436.55,241.32 L437.09,240.62 L437.64,239.91 L438.18,239.21 L438.73,238.50 L439.27,237.80 L439.82,237.10 L440.37,236.40 L440.91,235.70 L441.46,235.00 L442.00,234.30 L442.55,233.60 L443.09,232.90 L443.64,232.21 L444.18,231.51 L444.73,230.82 L445.27,230.13 L445.82,229.44 L446.37,228.75 L446.91,228.06 L447.46,227.37 L448.00,226.68 L448.55,226.00 L449.09,225.31 L449.64,224.63 L450.18,223.95 L450.73,223.27 L451.27,222.59 L451.82,221.91 L452.36,221.23 L452.91,220.56 L453.46,219.88 L454.00,219.21 L454.55,218.54 L455.09,217.87 L455.64,217.20 L456.18,216.53 L456.73,215.86 L457.27,215.20 L457.82,214.53 L458.36,213.87 L458.91,213.21 L459.46,212.55 L460.00,211.89 L460.55,211.24 L461.09,210.58 L461.64,209.93 L462.18,209.28 L462.73,208.63 L463.27,207.98 L463.82,207.33 L464.36,206.69 L464.91,206.04 L465.45,205.40 L466.00,204.76" fill="none" stroke="#ff0000" stroke-width="2.8"/>
<path d="M106.5,519.2 L106.5,188.6 L465,188.6 M105.5,518.2 L465,518.2 M106.5,514.00 h3.9 M106.5,509.55 h6.8 M106.5,480.26 h3.9 M106.5,463.13 h3.9 M106.5,450.97 h3.9 M106.5,441.54 h3.9 M106.5,433.84 h3.9 M106.5,427.32 h3.9 M106.5,421.68 h3.9 M106.5,416.70 h3.9 M106.5,412.25 h6.8 M106.5,382.96 h3.9 M106.5,365.83 h3.9 M106.5,353.67 h3.9 M106.5,344.24 h3.9 M106.5,336.54 h3.9 M106.5,330.02 h3.9 M106.5,324.38 h3.9 M106.5,319.40 h3.9 M106.5,314.95 h6.8 M106.5,285.66 h3.9 M106.5,268.53 h3.9 M106.5,256.37 h3.9 M106.5,246.94 h3.9 M106.5,239.24 h3.9 M106.5,232.72 h3.9 M106.5,227.08 h3.9 M106.5,222.10 h3.9 M106.5,217.65 h6.8" fill="none" stroke="#000" stroke-width="2"/>
<path d="M126.91,518.2 v-3.9 M126.91,188.6 v3.9 M138.85,518.2 v-3.9 M138.85,188.6 v3.9 M147.32,518.2 v-3.9 M147.32,188.6 v3.9 M153.89,518.2 v-3.9 M153.89,188.6 v3.9 M159.26,518.2 v-3.9 M159.26,188.6 v3.9 M163.80,518.2 v-3.9 M163.80,188.6 v3.9 M167.73,518.2 v-3.9 M167.73,188.6 v3.9 M171.20,518.2 v-3.9 M171.20,188.6 v3.9 M174.30,518.2 v-6.8 M174.30,188.6 v6.8 M194.71,518.2 v-3.9 M194.71,188.6 v3.9 M206.65,518.2 v-3.9 M206.65,188.6 v3.9 M215.12,518.2 v-3.9 M215.12,188.6 v3.9 M221.69,518.2 v-3.9 M221.69,188.6 v3.9 M227.06,518.2 v-3.9 M227.06,188.6 v3.9 M231.60,518.2 v-3.9 M231.60,188.6 v3.9 M235.53,518.2 v-3.9 M235.53,188.6 v3.9 M239.00,518.2 v-3.9 M239.00,188.6 v3.9 M242.10,518.2 v-6.8 M242.10,188.6 v6.8 M262.51,518.2 v-3.9 M262.51,188.6 v3.9 M274.45,518.2 v-3.9 M274.45,188.6 v3.9 M282.92,518.2 v-3.9 M282.92,188.6 v3.9 M289.49,518.2 v-3.9 M289.49,188.6 v3.9 M294.86,518.2 v-3.9 M294.86,188.6 v3.9 M299.40,518.2 v-3.9 M299.40,188.6 v3.9 M303.33,518.2 v-3.9 M303.33,188.6 v3.9 M306.80,518.2 v-3.9 M306.80,188.6 v3.9 M309.90,518.2 v-6.8 M309.90,188.6 v6.8 M330.31,518.2 v-3.9 M330.31,188.6 v3.9 M342.25,518.2 v-3.9 M342.25,188.6 v3.9 M350.72,518.2 v-3.9 M350.72,188.6 v3.9 M357.29,518.2 v-3.9 M357.29,188.6 v3.9 M362.66,518.2 v-3.9 M362.66,188.6 v3.9 M367.20,518.2 v-3.9 M367.20,188.6 v3.9 M371.13,518.2 v-3.9 M371.13,188.6 v3.9 M374.60,518.2 v-3.9 M374.60,188.6 v3.9 M377.70,518.2 v-6.8 M377.70,188.6 v6.8 M398.11,518.2 v-3.9 M398.11,188.6 v3.9 M410.05,518.2 v-3.9 M410.05,188.6 v3.9 M418.52,518.2 v-3.9 M418.52,188.6 v3.9 M425.09,518.2 v-3.9 M425.09,188.6 v3.9 M430.46,518.2 v-3.9 M430.46,188.6 v3.9 M435.00,518.2 v-3.9 M435.00,188.6 v3.9 M438.93,518.2 v-3.9 M438.93,188.6 v3.9 M442.40,518.2 v-3.9 M442.40,188.6 v3.9 M445.50,518.2 v-6.8 M445.50,188.6 v6.8" fill="none" stroke="#000" stroke-width="1.6"/>
<clipPath id="ic"><rect x="128.0" y="200.5" width="175.2" height="148.2"/></clipPath>
<g clip-path="url(#ic)"><path d="M118.00,344.52 L118.24,344.50 L118.47,344.49 L118.71,344.47 L118.95,344.46 L119.18,344.45 L119.42,344.43 L119.66,344.42 L119.89,344.41 L120.13,344.39 L120.37,344.38 L120.60,344.37 L120.84,344.36 L121.08,344.34 L121.31,344.33 L121.55,344.32 L121.78,344.31 L122.02,344.30 L122.26,344.29 L122.49,344.28 L122.73,344.27 L122.97,344.26 L123.20,344.25 L123.44,344.24 L123.68,344.23 L123.91,344.23 L124.15,344.22 L124.39,344.21 L124.62,344.20 L124.86,344.19 L125.10,344.19 L125.33,344.18 L125.57,344.17 L125.81,344.17 L126.04,344.16 L126.28,344.16 L126.52,344.15 L126.75,344.14 L126.99,344.14 L127.23,344.13 L127.46,344.13 L127.70,344.13 L127.93,344.12 L128.17,344.12 L128.41,344.11 L128.64,344.11 L128.88,344.11 L129.12,344.10 L129.35,344.10 L129.59,344.10 L129.83,344.09 L130.06,344.09 L130.30,344.09 L130.54,344.09 L130.77,344.09 L131.01,344.08 L131.25,344.08 L131.48,344.08 L131.72,344.08 L131.96,344.08 L132.19,344.08 L132.43,344.08 L132.67,344.08 L132.90,344.08 L133.14,344.08 L133.38,344.08 L133.61,344.08 L133.85,344.08 L134.09,344.08 L134.32,344.08 L134.56,344.08 L134.79,344.08 L135.03,344.08 L135.27,344.08 L135.50,344.08 L135.74,344.09 L135.98,344.09 L136.21,344.09 L136.45,344.09 L136.69,344.09 L136.92,344.10 L137.16,344.10 L137.40,344.10 L137.63,344.10 L137.87,344.11 L138.11,344.11 L138.34,344.11 L138.58,344.12 L138.82,344.12 L139.05,344.12 L139.29,344.13 L139.53,344.13 L139.76,344.13 L140.00,344.14 L140.24,344.14 L140.47,344.15 L140.71,344.15 L140.94,344.15 L141.18,344.16 L141.42,344.16 L141.65,344.17 L141.89,344.17 L142.13,344.18 L142.36,344.18 L142.60,344.19 L142.84,344.19 L143.07,344.20 L143.31,344.20 L143.55,344.21 L143.78,344.21 L144.02,344.22 L144.26,344.22 L144.49,344.23 L144.73,344.23 L144.97,344.24 L145.20,344.24 L145.44,344.25 L145.68,344.25 L145.91,344.26 L146.15,344.27 L146.39,344.27 L146.62,344.28 L146.86,344.28 L147.10,344.29 L147.33,344.30 L147.57,344.30 L147.80,344.31 L148.04,344.31 L148.28,344.32 L148.51,344.33 L148.75,344.33 L148.99,344.34 L149.22,344.34 L149.46,344.35 L149.70,344.36 L149.93,344.36 L150.17,344.37 L150.41,344.37 L150.64,344.38 L150.88,344.39 L151.12,344.39 L151.35,344.40 L151.59,344.40 L151.83,344.41 L152.06,344.42 L152.30,344.42 L152.54,344.43 L152.77,344.44 L153.01,344.44 L153.25,344.45 L153.48,344.45 L153.72,344.46 L153.95,344.46 L154.19,344.47 L154.43,344.48 L154.66,344.48 L154.90,344.49 L155.14,344.49 L155.37,344.50 L155.61,344.50 L155.85,344.51 L156.08,344.52 L156.32,344.52 L156.56,344.53 L156.79,344.53 L157.03,344.54 L157.27,344.54 L157.50,344.55 L157.74,344.55 L157.98,344.56 L158.21,344.56 L158.45,344.57 L158.69,344.57 L158.92,344.58 L159.16,344.58 L159.40,344.59 L159.63,344.59 L159.87,344.59 L160.11,344.60 L160.34,344.60 L160.58,344.61 L160.81,344.61 L161.05,344.62 L161.29,344.62 L161.52,344.62 L161.76,344.63 L162.00,344.63 L162.23,344.63 L162.47,344.64 L162.71,344.64 L162.94,344.64 L163.18,344.65 L163.42,344.65 L163.65,344.65 L163.89,344.65 L164.13,344.66 L164.36,344.66 L164.60,344.66 L164.84,344.66 L165.07,344.66 L165.31,344.66 L165.55,344.67 L165.78,344.67 L166.02,344.67 L166.26,344.67 L166.49,344.67 L166.73,344.67 L166.96,344.67 L167.20,344.67 L167.44,344.67 L167.67,344.67 L167.91,344.67 L168.15,344.67 L168.38,344.67 L168.62,344.67 L168.86,344.67 L169.09,344.67 L169.33,344.67 L169.57,344.67 L169.80,344.67 L170.04,344.67 L170.28,344.66 L170.51,344.66 L170.75,344.66 L170.99,344.66 L171.22,344.65 L171.46,344.65 L171.70,344.65 L171.93,344.64 L172.17,344.64 L172.41,344.64 L172.64,344.63 L172.88,344.63 L173.12,344.63 L173.35,344.62 L173.59,344.62 L173.82,344.61 L174.06,344.61 L174.30,344.60 L174.53,344.60 L174.77,344.59 L175.01,344.58 L175.24,344.58 L175.48,344.57 L175.72,344.56 L175.95,344.56 L176.19,344.55 L176.43,344.54 L176.66,344.53 L176.90,344.53 L177.14,344.52 L177.37,344.51 L177.61,344.50 L177.85,344.49 L178.08,344.48 L178.32,344.47 L178.56,344.46 L178.79,344.45 L179.03,344.44 L179.27,344.43 L179.50,344.42 L179.74,344.41 L179.97,344.40 L180.21,344.38 L180.45,344.37 L180.68,344.36 L180.92,344.35 L181.16,344.33 L181.39,344.32 L181.63,344.31 L181.87,344.29 L182.10,344.28 L182.34,344.26 L182.58,344.25 L182.81,344.24 L183.05,344.22 L183.29,344.20 L183.52,344.19 L183.76,344.17 L184.00,344.15 L184.23,344.14 L184.47,344.12 L184.71,344.10 L184.94,344.08 L185.18,344.07 L185.42,344.05 L185.65,344.03 L185.89,344.01 L186.13,343.99 L186.36,343.97 L186.60,343.95 L186.83,343.93 L187.07,343.91 L187.31,343.89 L187.54,343.86 L187.78,343.84 L188.02,343.82 L188.25,343.80 L188.49,343.77 L188.73,343.75 L188.96,343.72 L189.20,343.70 L189.44,343.68 L189.67,343.65 L189.91,343.62 L190.15,343.60 L190.38,343.57 L190.62,343.55 L190.86,343.52 L191.09,343.49 L191.33,343.46 L191.57,343.44 L191.80,343.41 L192.04,343.38 L192.28,343.35 L192.51,343.32 L192.75,343.29 L192.98,343.26 L193.22,343.23 L193.46,343.19 L193.69,343.16 L193.93,343.13 L194.17,343.10 L194.40,343.06 L194.64,343.03 L194.88,343.00 L195.11,342.96 L195.35,342.93 L195.59,342.89 L195.82,342.86 L196.06,342.82 L196.30,342.78 L196.53,342.75 L196.77,342.71 L197.01,342.67 L197.24,342.63 L197.48,342.59 L197.72,342.55 L197.95,342.51 L198.19,342.47 L198.43,342.43 L198.66,342.39 L198.90,342.35 L199.14,342.31 L199.37,342.27 L199.61,342.22 L199.84,342.18 L200.08,342.14 L200.32,342.09 L200.55,342.05 L200.79,342.00 L201.03,341.95 L201.26,341.91 L201.50,341.86 L201.74,341.81 L201.97,341.76 L202.21,341.70 L202.45,341.65 L202.68,341.60 L202.92,341.54 L203.16,341.48 L203.39,341.42 L203.63,341.36 L203.87,341.30 L204.10,341.23 L204.34,341.16 L204.58,341.09 L204.81,341.02 L205.05,340.95 L205.29,340.87 L205.52,340.79 L205.76,340.71 L205.99,340.63 L206.23,340.54 L206.47,340.45 L206.70,340.35 L206.94,340.26 L207.18,340.16 L207.41,340.06 L207.65,339.95 L207.89,339.84 L208.12,339.73 L208.36,339.61 L208.60,339.49 L208.83,339.37 L209.07,339.24 L209.31,339.11 L209.54,338.97 L209.78,338.83 L210.02,338.69 L210.25,338.54 L210.49,338.39 L210.73,338.23 L210.96,338.07 L211.20,337.90 L211.44,337.73 L211.67,337.56 L211.91,337.38 L212.15,337.19 L212.38,337.00 L212.62,336.80 L212.85,336.60 L213.09,336.40 L213.33,336.18 L213.56,335.97 L213.80,335.74 L214.04,335.51 L214.27,335.28 L214.51,335.04 L214.75,334.79 L214.98,334.54 L215.22,334.28 L215.46,334.01 L215.69,333.74 L215.93,333.46 L216.17,333.18 L216.40,332.89 L216.64,332.59 L216.88,332.28 L217.11,331.97 L217.35,331.65 L217.59,331.33 L217.82,330.99 L218.06,330.65 L218.30,330.31 L218.53,329.95 L218.77,329.59 L219.01,329.22 L219.24,328.84 L219.48,328.46 L219.71,328.06 L219.95,327.66 L220.19,327.25 L220.42,326.84 L220.66,326.41 L220.90,325.98 L221.13,325.54 L221.37,325.09 L221.61,324.63 L221.84,324.16 L222.08,323.69 L222.32,323.20 L222.55,322.71 L222.79,322.21 L223.03,321.70 L223.26,321.19 L223.50,320.67 L223.74,320.14 L223.97,319.61 L224.21,319.08 L224.45,318.54 L224.68,318.00 L224.92,317.46 L225.16,316.92 L225.39,316.38 L225.63,315.84 L225.86,315.30 L226.10,314.76 L226.34,314.22 L226.57,313.68 L226.81,313.14 L227.05,312.60 L227.28,312.06 L227.52,311.52 L227.76,310.99 L227.99,310.45 L228.23,309.92 L228.47,309.38 L228.70,308.85 L228.94,308.31 L229.18,307.78 L229.41,307.25 L229.65,306.71 L229.89,306.18 L230.12,305.65 L230.36,305.12 L230.60,304.59 L230.83,304.06 L231.07,303.53 L231.31,303.00 L231.54,302.47 L231.78,301.94 L232.02,301.42 L232.25,300.89 L232.49,300.36 L232.72,299.84 L232.96,299.31 L233.20,298.79 L233.43,298.26 L233.67,297.74 L233.91,297.22 L234.14,296.70 L234.38,296.17 L234.62,295.65 L234.85,295.14 L235.09,294.62 L235.33,294.11 L235.56,293.59 L235.80,293.08 L236.04,292.58 L236.27,292.07 L236.51,291.57 L236.75,291.07 L236.98,290.58 L237.22,290.09 L237.46,289.60 L237.69,289.12 L237.93,288.64 L238.17,288.17 L238.40,287.70 L238.64,287.23 L238.87,286.77 L239.11,286.32 L239.35,285.87 L239.58,285.43 L239.82,284.99 L240.06,284.55 L240.29,284.12 L240.53,283.69 L240.77,283.27 L241.00,282.85 L241.24,282.44 L241.48,282.03 L241.71,281.62 L241.95,281.22 L242.19,280.82 L242.42,280.42 L242.66,280.03 L242.90,279.64 L243.13,279.26 L243.37,278.88 L243.61,278.50 L243.84,278.12 L244.08,277.75 L244.32,277.38 L244.55,277.01 L244.79,276.64 L245.03,276.28 L245.26,275.92 L245.50,275.56 L245.73,275.20 L245.97,274.85 L246.21,274.50 L246.44,274.15 L246.68,273.80 L246.92,273.45 L247.15,273.10 L247.39,272.76 L247.63,272.42 L247.86,272.07 L248.10,271.73 L248.34,271.39 L248.57,271.05 L248.81,270.72 L249.05,270.38 L249.28,270.04 L249.52,269.71 L249.76,269.37 L249.99,269.04 L250.23,268.70 L250.47,268.37 L250.70,268.04 L250.94,267.70 L251.18,267.37 L251.41,267.04 L251.65,266.71 L251.88,266.38 L252.12,266.05 L252.36,265.73 L252.59,265.40 L252.83,265.07 L253.07,264.75 L253.30,264.42 L253.54,264.10 L253.78,263.77 L254.01,263.45 L254.25,263.12 L254.49,262.80 L254.72,262.48 L254.96,262.16 L255.20,261.84 L255.43,261.52 L255.67,261.20 L255.91,260.88 L256.14,260.56 L256.38,260.24 L256.62,259.92 L256.85,259.61 L257.09,259.29 L257.33,258.97 L257.56,258.66 L257.80,258.34 L258.04,258.02 L258.27,257.71 L258.51,257.40 L258.74,257.08 L258.98,256.77 L259.22,256.45 L259.45,256.14 L259.69,255.83 L259.93,255.52 L260.16,255.21 L260.40,254.89 L260.64,254.58 L260.87,254.27 L261.11,253.96 L261.35,253.65 L261.58,253.34 L261.82,253.03 L262.06,252.72 L262.29,252.41 L262.53,252.10 L262.77,251.80 L263.00,251.49 L263.24,251.18 L263.48,250.87 L263.71,250.56 L263.95,250.26 L264.19,249.95 L264.42,249.64 L264.66,249.34 L264.89,249.03 L265.13,248.72 L265.37,248.42 L265.60,248.11 L265.84,247.80 L266.08,247.50 L266.31,247.19 L266.55,246.89 L266.79,246.58 L267.02,246.28 L267.26,245.97 L267.50,245.67 L267.73,245.36 L267.97,245.06 L268.21,244.75 L268.44,244.44 L268.68,244.14 L268.92,243.83 L269.15,243.53 L269.39,243.22 L269.63,242.92 L269.86,242.61 L270.10,242.31 L270.34,242.00 L270.57,241.70 L270.81,241.39 L271.05,241.09 L271.28,240.78 L271.52,240.48 L271.75,240.17 L271.99,239.87 L272.23,239.56 L272.46,239.26 L272.70,238.95 L272.94,238.65 L273.17,238.34 L273.41,238.04 L273.65,237.73 L273.88,237.42 L274.12,237.12 L274.36,236.81 L274.59,236.51 L274.83,236.20 L275.07,235.89 L275.30,235.59 L275.54,235.28 L275.78,234.98 L276.01,234.67 L276.25,234.37 L276.49,234.06 L276.72,233.75 L276.96,233.45 L277.20,233.14 L277.43,232.84 L277.67,232.53 L277.90,232.23 L278.14,231.92 L278.38,231.62 L278.61,231.31 L278.85,231.01 L279.09,230.70 L279.32,230.40 L279.56,230.09 L279.80,229.79 L280.03,229.48 L280.27,229.18 L280.51,228.88 L280.74,228.57 L280.98,228.27 L281.22,227.96 L281.45,227.66 L281.69,227.36 L281.93,227.05 L282.16,226.75 L282.40,226.45 L282.64,226.14 L282.87,225.84 L283.11,225.54 L283.35,225.24 L283.58,224.93 L283.82,224.63 L284.06,224.33 L284.29,224.03 L284.53,223.73 L284.76,223.43 L285.00,223.13 L285.24,222.83 L285.47,222.52 L285.71,222.22 L285.95,221.92 L286.18,221.63 L286.42,221.33 L286.66,221.03 L286.89,220.73 L287.13,220.43 L287.37,220.13 L287.60,219.83 L287.84,219.54 L288.08,219.24 L288.31,218.94 L288.55,218.64 L288.79,218.35 L289.02,218.05 L289.26,217.76 L289.50,217.46 L289.73,217.16 L289.97,216.87 L290.21,216.57 L290.44,216.28 L290.68,215.99 L290.91,215.69 L291.15,215.40 L291.39,215.11 L291.62,214.82 L291.86,214.52 L292.10,214.23 L292.33,213.94 L292.57,213.65 L292.81,213.36 L293.04,213.07 L293.28,212.78 L293.52,212.49 L293.75,212.20 L293.99,211.91 L294.23,211.63 L294.46,211.34 L294.70,211.05 L294.94,210.76 L295.17,210.48 L295.41,210.19 L295.65,209.91 L295.88,209.62 L296.12,209.34 L296.36,209.05 L296.59,208.77 L296.83,208.49 L297.07,208.21 L297.30,207.92 L297.54,207.64 L297.77,207.36 L298.01,207.08 L298.25,206.80 L298.48,206.52 L298.72,206.24 L298.96,205.97 L299.19,205.69 L299.43,205.41 L299.67,205.13 L299.90,204.86 L300.14,204.58 L300.38,204.31 L300.61,204.03 L300.85,203.76 L301.09,203.49 L301.32,203.21 L301.56,202.94 L301.80,202.67 L302.03,202.40 L302.27,202.13 L302.51,201.86 L302.74,201.59 L302.98,201.32 L303.22,201.06 L303.45,200.79 L303.69,200.52 L303.92,200.26 L304.16,199.99 L304.40,199.73 L304.63,199.46 L304.87,199.20 L305.11,198.94 L305.34,198.68 L305.58,198.42 L305.82,198.16 L306.05,197.90 L306.29,197.64 L306.53,197.38 L306.76,197.12 L307.00,196.86" fill="none" stroke="#ff0000" stroke-width="3.9"/>
<path d="M118.00,344.52 L118.24,344.50 L118.47,344.49 L118.71,344.47 L118.95,344.46 L119.18,344.45 L119.42,344.43 L119.66,344.42 L119.89,344.41 L120.13,344.39 L120.37,344.38 L120.60,344.37 L120.84,344.36 L121.08,344.34 L121.31,344.33 L121.55,344.32 L121.78,344.31 L122.02,344.30 L122.26,344.29 L122.49,344.28 L122.73,344.27 L122.97,344.26 L123.20,344.25 L123.44,344.24 L123.68,344.23 L123.91,344.23 L124.15,344.22 L124.39,344.21 L124.62,344.20 L124.86,344.19 L125.10,344.19 L125.33,344.18 L125.57,344.17 L125.81,344.17 L126.04,344.16 L126.28,344.16 L126.52,344.15 L126.75,344.14 L126.99,344.14 L127.23,344.13 L127.46,344.13 L127.70,344.13 L127.93,344.12 L128.17,344.12 L128.41,344.11 L128.64,344.11 L128.88,344.11 L129.12,344.10 L129.35,344.10 L129.59,344.10 L129.83,344.09 L130.06,344.09 L130.30,344.09 L130.54,344.09 L130.77,344.09 L131.01,344.08 L131.25,344.08 L131.48,344.08 L131.72,344.08 L131.96,344.08 L132.19,344.08 L132.43,344.08 L132.67,344.08 L132.90,344.08 L133.14,344.08 L133.38,344.08 L133.61,344.08 L133.85,344.08 L134.09,344.08 L134.32,344.08 L134.56,344.08 L134.79,344.08 L135.03,344.08 L135.27,344.08 L135.50,344.08 L135.74,344.09 L135.98,344.09 L136.21,344.09 L136.45,344.09 L136.69,344.09 L136.92,344.10 L137.16,344.10 L137.40,344.10 L137.63,344.10 L137.87,344.11 L138.11,344.11 L138.34,344.11 L138.58,344.12 L138.82,344.12 L139.05,344.12 L139.29,344.13 L139.53,344.13 L139.76,344.13 L140.00,344.14 L140.24,344.14 L140.47,344.15 L140.71,344.15 L140.94,344.15 L141.18,344.16 L141.42,344.16 L141.65,344.17 L141.89,344.17 L142.13,344.18 L142.36,344.18 L142.60,344.19 L142.84,344.19 L143.07,344.20 L143.31,344.20 L143.55,344.21 L143.78,344.21 L144.02,344.22 L144.26,344.22 L144.49,344.23 L144.73,344.23 L144.97,344.24 L145.20,344.24 L145.44,344.25 L145.68,344.25 L145.91,344.26 L146.15,344.27 L146.39,344.27 L146.62,344.28 L146.86,344.28 L147.10,344.29 L147.33,344.30 L147.57,344.30 L147.80,344.31 L148.04,344.31 L148.28,344.32 L148.51,344.33 L148.75,344.33 L148.99,344.34 L149.22,344.34 L149.46,344.35 L149.70,344.36 L149.93,344.36 L150.17,344.37 L150.41,344.37 L150.64,344.38 L150.88,344.39 L151.12,344.39 L151.35,344.40 L151.59,344.40 L151.83,344.41 L152.06,344.42 L152.30,344.42 L152.54,344.43 L152.77,344.44 L153.01,344.44 L153.25,344.45 L153.48,344.45 L153.72,344.46 L153.95,344.46 L154.19,344.47 L154.43,344.48 L154.66,344.48 L154.90,344.49 L155.14,344.49 L155.37,344.50 L155.61,344.50 L155.85,344.51 L156.08,344.52 L156.32,344.52 L156.56,344.53 L156.79,344.53 L157.03,344.54 L157.27,344.54 L157.50,344.55 L157.74,344.55 L157.98,344.56 L158.21,344.56 L158.45,344.57 L158.69,344.57 L158.92,344.58 L159.16,344.58 L159.40,344.59 L159.63,344.59 L159.87,344.59 L160.11,344.60 L160.34,344.60 L160.58,344.61 L160.81,344.61 L161.05,344.62 L161.29,344.62 L161.52,344.62 L161.76,344.63 L162.00,344.63 L162.23,344.63 L162.47,344.64 L162.71,344.64 L162.94,344.64 L163.18,344.65 L163.42,344.65 L163.65,344.65 L163.89,344.65 L164.13,344.66 L164.36,344.66 L164.60,344.66 L164.84,344.66 L165.07,344.66 L165.31,344.66 L165.55,344.67 L165.78,344.67 L166.02,344.67 L166.26,344.67 L166.49,344.67 L166.73,344.67 L166.96,344.67 L167.20,344.67 L167.44,344.67 L167.67,344.67 L167.91,344.67 L168.15,344.67 L168.38,344.67 L168.62,344.67 L168.86,344.67 L169.09,344.67 L169.33,344.67 L169.57,344.67 L169.80,344.67 L170.04,344.67 L170.28,344.66 L170.51,344.66 L170.75,344.66 L170.99,344.66 L171.22,344.65 L171.46,344.65 L171.70,344.65 L171.93,344.64 L172.17,344.64 L172.41,344.64 L172.64,344.63 L172.88,344.63 L173.12,344.63 L173.35,344.62 L173.59,344.62 L173.82,344.61 L174.06,344.61 L174.30,344.60 L174.53,344.60 L174.77,344.59 L175.01,344.58 L175.24,344.58 L175.48,344.57 L175.72,344.56 L175.95,344.56 L176.19,344.55 L176.43,344.54 L176.66,344.53 L176.90,344.53 L177.14,344.52 L177.37,344.51 L177.61,344.50 L177.85,344.49 L178.08,344.48 L178.32,344.47 L178.56,344.46 L178.79,344.45 L179.03,344.44 L179.27,344.43 L179.50,344.42 L179.74,344.41 L179.97,344.40 L180.21,344.38 L180.45,344.37 L180.68,344.36 L180.92,344.35 L181.16,344.33 L181.39,344.32 L181.63,344.31 L181.87,344.29 L182.10,344.28 L182.34,344.26 L182.58,344.25 L182.81,344.24 L183.05,344.22 L183.29,344.20 L183.52,344.19 L183.76,344.17 L184.00,344.15 L184.23,344.14 L184.47,344.12 L184.71,344.10 L184.94,344.08 L185.18,344.07 L185.42,344.05 L185.65,344.03 L185.89,344.01 L186.13,343.99 L186.36,343.97 L186.60,343.95 L186.83,343.93 L187.07,343.91 L187.31,343.89 L187.54,343.86 L187.78,343.84 L188.02,343.82 L188.25,343.80 L188.49,343.77 L188.73,343.75 L188.96,343.72 L189.20,343.70 L189.44,343.68 L189.67,343.65 L189.91,343.62 L190.15,343.60 L190.38,343.57 L190.62,343.55 L190.86,343.52 L191.09,343.49 L191.33,343.46 L191.57,343.44 L191.80,343.41 L192.04,343.38 L192.28,343.35 L192.51,343.32 L192.75,343.29 L192.98,343.26 L193.22,343.23 L193.46,343.19 L193.69,343.16 L193.93,343.13 L194.17,343.10 L194.40,343.06 L194.64,343.03 L194.88,343.00 L195.11,342.96 L195.35,342.93 L195.59,342.89 L195.82,342.86 L196.06,342.82 L196.30,342.78 L196.53,342.75 L196.77,342.71 L197.01,342.67 L197.24,342.63 L197.48,342.59 L197.72,342.55 L197.95,342.51 L198.19,342.47 L198.43,342.43 L198.66,342.39 L198.90,342.35 L199.14,342.31 L199.37,342.27 L199.61,342.22 L199.84,342.18 L200.08,342.14 L200.32,342.09 L200.55,342.05 L200.79,342.00 L201.03,341.95 L201.26,341.91 L201.50,341.86 L201.74,341.81 L201.97,341.76 L202.21,341.70 L202.45,341.65 L202.68,341.60 L202.92,341.54 L203.16,341.48 L203.39,341.42 L203.63,341.36 L203.87,341.30 L204.10,341.23 L204.34,341.16 L204.58,341.09 L204.81,341.02 L205.05,340.95 L205.29,340.87 L205.52,340.79 L205.76,340.71 L205.99,340.63 L206.23,340.54 L206.47,340.45 L206.70,340.35 L206.94,340.26 L207.18,340.16 L207.41,340.06 L207.65,339.95 L207.89,339.84 L208.12,339.73 L208.36,339.61 L208.60,339.49 L208.83,339.37 L209.07,339.24 L209.31,339.11 L209.54,338.97 L209.78,338.83 L210.02,338.69 L210.25,338.54 L210.49,338.39 L210.73,338.23 L210.96,338.07 L211.20,337.90 L211.44,337.73 L211.67,337.56 L211.91,337.38 L212.15,337.19 L212.38,337.00 L212.62,336.80 L212.85,336.60 L213.09,336.40 L213.33,336.18 L213.56,335.97 L213.80,335.74 L214.04,335.51 L214.27,335.28 L214.51,335.04 L214.75,334.79 L214.98,334.54 L215.22,334.28 L215.46,334.01 L215.69,333.74 L215.93,333.46 L216.17,333.18 L216.40,332.89 L216.64,332.59 L216.88,332.28 L217.11,331.97 L217.35,331.65 L217.59,331.33 L217.82,330.99 L218.06,330.65 L218.30,330.31 L218.53,329.95 L218.77,329.59 L219.01,329.22 L219.24,328.84 L219.48,328.46 L219.71,328.06 L219.95,327.66 L220.19,327.25 L220.42,326.84 L220.66,326.41 L220.90,325.98 L221.13,325.54 L221.37,325.09 L221.61,324.63 L221.84,324.16 L222.08,323.69 L222.32,323.20 L222.55,322.71 L222.79,322.21 L223.03,321.70 L223.26,321.19 L223.50,320.67 L223.74,320.14 L223.97,319.61 L224.21,319.08 L224.45,318.54 L224.68,318.00 L224.92,317.46 L225.16,316.92 L225.39,316.38 L225.63,315.84 L225.86,315.30 L226.10,314.76 L226.34,314.22 L226.57,313.68 L226.81,313.14 L227.05,312.60 L227.28,312.06 L227.52,311.52 L227.76,310.99 L227.99,310.45 L228.23,309.92 L228.47,309.38 L228.70,308.85 L228.94,308.31 L229.18,307.78 L229.41,307.25 L229.65,306.71 L229.89,306.18 L230.12,305.65 L230.36,305.12 L230.60,304.59 L230.83,304.06 L231.07,303.53 L231.31,303.00 L231.54,302.47 L231.78,301.94 L232.02,301.42 L232.25,300.89 L232.49,300.36 L232.72,299.84 L232.96,299.31 L233.20,298.79 L233.43,298.26 L233.67,297.74 L233.91,297.22 L234.14,296.70 L234.38,296.17 L234.62,295.65 L234.85,295.14 L235.09,294.62 L235.33,294.11 L235.56,293.59 L235.80,293.08 L236.04,292.58 L236.27,292.07 L236.51,291.57 L236.75,291.07 L236.98,290.58 L237.22,290.09 L237.46,289.60 L237.69,289.12 L237.93,288.64 L238.03,288.41 L238.15,288.14 L238.26,287.86 L238.37,287.59 L238.49,287.32 L238.60,287.04 L238.70,286.77 L238.81,286.49 L238.92,286.22 L239.02,285.94 L239.13,285.66 L239.23,285.38 L239.34,285.11 L239.44,284.83 L239.54,284.55 L239.64,284.27 L239.74,283.99 L239.84,283.71 L239.94,283.43 L240.04,283.16 L240.15,282.88 L240.25,282.60 L240.35,282.32 L240.45,282.04 L240.55,281.76 L240.66,281.48 L240.76,281.21 L240.86,280.93 L240.97,280.65 L241.07,280.38 L241.18,280.10 L241.29,279.82 L241.40,279.55 L241.51,279.27 L241.62,279.00 L241.74,278.73 L241.85,278.45 L241.97,278.18 L242.08,277.91 L242.20,277.64 L242.32,277.37 L242.44,277.10 L242.56,276.82 L242.68,276.55 L242.80,276.28 L242.92,276.01 L243.04,275.74 L243.16,275.47 L243.28,275.20 L243.40,274.93 L243.52,274.66 L243.64,274.39 L243.76,274.12 L243.88,273.85 L244.00,273.58 L244.12,273.31 L244.24,273.03 L244.36,272.76 L244.48,272.49 L244.59,272.22 L244.71,271.95 L244.82,271.67 L244.94,271.40 L245.05,271.13 L245.16,270.85 L245.27,270.58 L245.38,270.30 L245.49,270.03 L245.60,269.75 L245.71,269.48 L245.81,269.20 L245.92,268.92 L246.03,268.65 L246.13,268.37 L246.24,268.09 L246.34,267.82 L246.45,267.54 L246.55,267.26 L246.65,266.99 L246.76,266.71 L246.86,266.43 L246.97,266.15 L247.07,265.88 L247.17,265.60 L247.27,265.32 L247.38,265.04 L247.48,264.76 L247.58,264.49 L247.69,264.21 L247.79,263.93 L247.89,263.65 L248.00,263.38 L248.10,263.10 L248.20,262.82 L248.31,262.54 L248.41,262.27 L248.52,261.99 L248.62,261.71 L248.73,261.44 L248.83,261.16 L248.94,260.88 L249.04,260.60 L249.14,260.33 L249.25,260.05 L249.35,259.77 L249.46,259.50 L249.56,259.22 L249.67,258.94 L249.77,258.67 L249.88,258.39 L249.98,258.11 L250.09,257.83 L250.19,257.56 L250.30,257.28 L250.40,257.00 L250.51,256.73 L250.61,256.45 L250.72,256.17 L250.82,255.90 L250.93,255.62 L251.03,255.34 L251.13,255.06 L251.24,254.79 L251.34,254.51 L251.45,254.23 L251.55,253.96 L251.66,253.68 L251.76,253.40 L251.86,253.12 L251.97,252.85 L252.07,252.57 L252.18,252.29 L252.28,252.02 L252.38,251.74 L252.49,251.46 L252.59,251.18 L252.69,250.91 L252.80,250.63 L252.90,250.35 L253.00,250.07 L253.11,249.80 L253.21,249.52 L253.31,249.24 L253.42,248.96 L253.52,248.68 L253.62,248.41 L253.72,248.13 L253.82,247.85 L253.93,247.57 L254.03,247.29 L254.13,247.02 L254.23,246.74 L254.33,246.46 L254.43,246.18 L254.54,245.90 L254.64,245.63 L254.74,245.35 L254.84,245.07 L254.94,244.79 L255.04,244.51 L255.14,244.23 L255.24,243.95 L255.33,243.67 L255.43,243.39 L255.53,243.12 L255.63,242.84 L255.73,242.56 L255.83,242.28 L255.93,242.00 L256.03,241.72 L256.12,241.44 L256.22,241.16 L256.32,240.88 L256.42,240.60 L256.52,240.32 L256.61,240.04 L256.71,239.76 L256.81,239.48 L256.91,239.20 L257.01,238.93 L257.10,238.65 L257.20,238.37 L257.30,238.09 L257.40,237.81 L257.50,237.53 L257.60,237.25 L257.69,236.97 L257.79,236.69 L257.89,236.41 L257.99,236.13 L258.09,235.85 L258.19,235.57 L258.28,235.29 L258.38,235.01 L258.48,234.73 L258.58,234.46 L258.68,234.18 L258.78,233.90 L258.87,233.62 L258.97,233.34 L259.07,233.06 L259.17,232.78 L259.27,232.50 L259.36,232.22 L259.46,231.94 L259.56,231.66 L259.66,231.38 L259.75,231.10 L259.85,230.82 L259.95,230.54 L260.05,230.26 L260.14,229.98 L260.24,229.70 L260.34,229.42 L260.44,229.14 L260.53,228.86 L260.63,228.59 L260.73,228.31 L260.83,228.03 L260.93,227.75 L261.02,227.47 L261.12,227.19 L261.22,226.91 L261.32,226.63 L261.42,226.35 L261.52,226.07 L261.61,225.79 L261.71,225.51 L261.81,225.23 L261.91,224.95 L262.01,224.67 L262.11,224.40 L262.21,224.12 L262.31,223.84 L262.41,223.56 L262.50,223.28 L262.60,223.00 L262.70,222.72 L262.80,222.44 L262.90,222.16 L263.01,221.89 L263.11,221.61 L263.21,221.33 L263.31,221.05 L263.41,220.77 L263.51,220.49 L263.61,220.22 L263.71,219.94 L263.81,219.66 L263.92,219.38 L264.02,219.10 L264.12,218.83 L264.23,218.55 L264.33,218.27 L264.43,217.99 L264.54,217.72 L264.64,217.44 L264.75,217.16 L264.85,216.89 L264.96,216.61 L265.06,216.33 L265.17,216.06 L265.28,215.78 L265.38,215.50 L265.49,215.23 L265.59,214.95 L265.70,214.67 L265.81,214.40 L265.91,214.12 L266.02,213.84 L266.12,213.57 L266.23,213.29 L266.34,213.01 L266.44,212.74 L266.55,212.46 L266.65,212.18 L266.76,211.91 L266.86,211.63 L266.97,211.35 L267.07,211.08 L267.18,210.80 L267.28,210.52 L267.38,210.25 L267.49,209.97 L267.59,209.69 L267.69,209.41 L267.79,209.13 L267.90,208.86 L268.00,208.58 L268.10,208.30" fill="none" stroke="#000" stroke-width="3.9" stroke-linecap="round" stroke-dasharray="0.00 1.95 8.71 17.70 8.70 17.70 8.71 17.79 9.13 20.60 9.94 19.00 9.98 18.77 9.63 18.64 9.47 18.53 9.56 52.11"/></g>
<path d="M128.0,200.5 H303.2 V348.7 H128.0 Z M137.19,200.5 v1.8 M137.19,348.7 v-1.8 M142.31,200.5 v1.8 M142.31,348.7 v-1.8 M145.94,200.5 v1.8 M145.94,348.7 v-1.8 M148.76,200.5 v1.8 M148.76,348.7 v-1.8 M151.06,200.5 v1.8 M151.06,348.7 v-1.8 M153.00,200.5 v1.8 M153.00,348.7 v-1.8 M154.68,200.5 v1.8 M154.68,348.7 v-1.8 M156.17,200.5 v1.8 M156.17,348.7 v-1.8 M157.50,200.5 v3.3 M157.50,348.7 v-3.3 M166.24,200.5 v1.8 M166.24,348.7 v-1.8 M171.36,200.5 v1.8 M171.36,348.7 v-1.8 M174.99,200.5 v1.8 M174.99,348.7 v-1.8 M177.81,200.5 v1.8 M177.81,348.7 v-1.8 M180.11,200.5 v1.8 M180.11,348.7 v-1.8 M182.05,200.5 v1.8 M182.05,348.7 v-1.8 M183.73,200.5 v1.8 M183.73,348.7 v-1.8 M185.22,200.5 v1.8 M185.22,348.7 v-1.8 M186.55,200.5 v3.3 M186.55,348.7 v-3.3 M195.29,200.5 v1.8 M195.29,348.7 v-1.8 M200.41,200.5 v1.8 M200.41,348.7 v-1.8 M204.04,200.5 v1.8 M204.04,348.7 v-1.8 M206.86,200.5 v1.8 M206.86,348.7 v-1.8 M209.16,200.5 v1.8 M209.16,348.7 v-1.8 M211.10,200.5 v1.8 M211.10,348.7 v-1.8 M212.78,200.5 v1.8 M212.78,348.7 v-1.8 M214.27,200.5 v1.8 M214.27,348.7 v-1.8 M215.60,200.5 v3.3 M215.60,348.7 v-3.3 M224.34,200.5 v1.8 M224.34,348.7 v-1.8 M229.46,200.5 v1.8 M229.46,348.7 v-1.8 M233.09,200.5 v1.8 M233.09,348.7 v-1.8 M235.91,200.5 v1.8 M235.91,348.7 v-1.8 M238.21,200.5 v1.8 M238.21,348.7 v-1.8 M240.15,200.5 v1.8 M240.15,348.7 v-1.8 M241.83,200.5 v1.8 M241.83,348.7 v-1.8 M243.32,200.5 v1.8 M243.32,348.7 v-1.8 M244.65,200.5 v3.3 M244.65,348.7 v-3.3 M253.39,200.5 v1.8 M253.39,348.7 v-1.8 M258.51,200.5 v1.8 M258.51,348.7 v-1.8 M262.14,200.5 v1.8 M262.14,348.7 v-1.8 M264.96,200.5 v1.8 M264.96,348.7 v-1.8 M267.26,200.5 v1.8 M267.26,348.7 v-1.8 M269.20,200.5 v1.8 M269.20,348.7 v-1.8 M270.88,200.5 v1.8 M270.88,348.7 v-1.8 M272.37,200.5 v1.8 M272.37,348.7 v-1.8 M273.70,200.5 v3.3 M273.70,348.7 v-3.3 M282.44,200.5 v1.8 M282.44,348.7 v-1.8 M287.56,200.5 v1.8 M287.56,348.7 v-1.8 M291.19,200.5 v1.8 M291.19,348.7 v-1.8 M294.01,200.5 v1.8 M294.01,348.7 v-1.8 M296.31,200.5 v1.8 M296.31,348.7 v-1.8 M298.25,200.5 v1.8 M298.25,348.7 v-1.8 M299.93,200.5 v1.8 M299.93,348.7 v-1.8 M301.42,200.5 v1.8 M301.42,348.7 v-1.8 M302.75,200.5 v3.3 M302.75,348.7 v-3.3 M128.0,345.20 h3.3 M303.2,345.20 h-3.3 M128.0,331.95 h1.8 M303.2,331.95 h-1.8 M128.0,324.21 h1.8 M303.2,324.21 h-1.8 M128.0,318.71 h1.8 M303.2,318.71 h-1.8 M128.0,314.45 h1.8 M303.2,314.45 h-1.8 M128.0,310.96 h1.8 M303.2,310.96 h-1.8 M128.0,308.02 h1.8 M303.2,308.02 h-1.8 M128.0,305.46 h1.8 M303.2,305.46 h-1.8 M128.0,303.21 h1.8 M303.2,303.21 h-1.8 M128.0,301.20 h3.3 M303.2,301.20 h-3.3 M128.0,287.95 h1.8 M303.2,287.95 h-1.8 M128.0,280.21 h1.8 M303.2,280.21 h-1.8 M128.0,274.71 h1.8 M303.2,274.71 h-1.8 M128.0,270.45 h1.8 M303.2,270.45 h-1.8 M128.0,266.96 h1.8 M303.2,266.96 h-1.8 M128.0,264.02 h1.8 M303.2,264.02 h-1.8 M128.0,261.46 h1.8 M303.2,261.46 h-1.8 M128.0,259.21 h1.8 M303.2,259.21 h-1.8 M128.0,257.20 h3.3 M303.2,257.20 h-3.3 M128.0,243.95 h1.8 M303.2,243.95 h-1.8 M128.0,236.21 h1.8 M303.2,236.21 h-1.8 M128.0,230.71 h1.8 M303.2,230.71 h-1.8 M128.0,226.45 h1.8 M303.2,226.45 h-1.8 M128.0,222.96 h1.8 M303.2,222.96 h-1.8 M128.0,220.02 h1.8 M303.2,220.02 h-1.8 M128.0,217.46 h1.8 M303.2,217.46 h-1.8 M128.0,215.21 h1.8 M303.2,215.21 h-1.8 M128.0,213.20 h3.3 M303.2,213.20 h-3.3" fill="none" stroke="#111" stroke-width="1"/>
<path d="M290.50,566.75 L290.42,568.00 L290.16,569.22 L289.75,570.40 L289.17,571.52 L288.45,572.56 L287.60,573.50 L286.63,574.33 L285.55,575.02 L284.39,575.57 L283.16,575.97 L281.89,576.22 L280.60,576.30 L279.31,576.22 L278.04,575.97 L276.81,575.57 L275.65,575.02 L274.57,574.33 L273.60,573.50 L272.75,572.56 L272.03,571.52 L271.45,570.40 L271.04,569.22 L270.78,568.00 L270.70,566.75 L270.78,565.50 L271.04,564.28 L271.45,563.10 L272.03,561.98 L272.75,560.94 L273.60,560.00 L274.57,559.17 L275.65,558.48 L276.81,557.93 L278.04,557.53 L279.31,557.28 L280.60,557.20 L281.89,557.28 L283.16,557.53 L284.39,557.93 L285.55,558.48 L286.63,559.17 L287.60,560.00 L288.45,560.94 L289.17,561.98 L289.75,563.10 L290.16,564.28 L290.42,565.50Z M285.70,564.88 L285.32,563.99 L284.86,563.15 L284.33,562.38 L283.73,561.70 L283.07,561.10 L282.37,560.62 L281.63,560.24 L280.87,559.99 L280.10,559.86 L279.34,559.85 L278.60,559.97 L277.88,560.21 L277.22,560.58 L276.60,561.05 L276.05,561.64 L275.57,562.31 L275.18,563.07 L274.88,563.90 L274.67,564.79 L274.56,565.72 L274.54,566.67 L274.63,567.64 L274.82,568.59 L275.10,569.52 L275.48,570.41 L275.94,571.25 L276.47,572.02 L277.07,572.70 L277.73,573.30 L278.43,573.78 L279.17,574.16 L279.93,574.41 L280.70,574.54 L281.46,574.55 L282.20,574.43 L282.92,574.19 L283.58,573.82 L284.20,573.35 L284.75,572.76 L285.23,572.09 L285.62,571.33 L285.92,570.50 L286.13,569.61 L286.24,568.68 L286.26,567.73 L286.17,566.76 L285.98,565.81Z" fill="#000" fill-rule="evenodd"/><path d="M279.20,557.20 L292.80,557.20 L292.50,560.20 L279.20,560.20 Z" fill="#000"/><path d="M325.90,566.75 L325.82,568.00 L325.56,569.22 L325.15,570.40 L324.57,571.52 L323.85,572.56 L323.00,573.50 L322.03,574.33 L320.95,575.02 L319.79,575.57 L318.56,575.97 L317.29,576.22 L316.00,576.30 L314.71,576.22 L313.44,575.97 L312.21,575.57 L311.05,575.02 L309.97,574.33 L309.00,573.50 L308.15,572.56 L307.43,571.52 L306.85,570.40 L306.44,569.22 L306.18,568.00 L306.10,566.75 L306.18,565.50 L306.44,564.28 L306.85,563.10 L307.43,561.98 L308.15,560.94 L309.00,560.00 L309.97,559.17 L311.05,558.48 L312.21,557.93 L313.44,557.53 L314.71,557.28 L316.00,557.20 L317.29,557.28 L318.56,557.53 L319.79,557.93 L320.95,558.48 L322.03,559.17 L323.00,560.00 L323.85,560.94 L324.57,561.98 L325.15,563.10 L325.56,564.28 L325.82,565.50Z M321.10,564.88 L320.72,563.99 L320.26,563.15 L319.73,562.38 L319.13,561.70 L318.47,561.10 L317.77,560.62 L317.03,560.24 L316.27,559.99 L315.50,559.86 L314.74,559.85 L314.00,559.97 L313.28,560.21 L312.62,560.58 L312.00,561.05 L311.45,561.64 L310.97,562.31 L310.58,563.07 L310.28,563.90 L310.07,564.79 L309.96,565.72 L309.94,566.67 L310.03,567.64 L310.22,568.59 L310.50,569.52 L310.88,570.41 L311.34,571.25 L311.87,572.02 L312.47,572.70 L313.13,573.30 L313.83,573.78 L314.57,574.16 L315.33,574.41 L316.10,574.54 L316.86,574.55 L317.60,574.43 L318.32,574.19 L318.98,573.82 L319.60,573.35 L320.15,572.76 L320.63,572.09 L321.02,571.33 L321.32,570.50 L321.53,569.61 L321.64,568.68 L321.66,567.73 L321.57,566.76 L321.38,565.81Z" fill="#000" fill-rule="evenodd"/><path d="M314.60,557.20 L328.20,557.20 L327.90,560.20 L314.60,560.20 Z" fill="#000"/><path d="M201.47,370.35 L201.41,371.18 L201.24,371.99 L200.97,372.78 L200.58,373.53 L200.11,374.22 L199.54,374.84 L198.89,375.39 L198.18,375.85 L197.40,376.22 L196.59,376.49 L195.74,376.65 L194.88,376.70 L194.02,376.65 L193.18,376.49 L192.36,376.22 L191.59,375.85 L190.88,375.39 L190.23,374.84 L189.66,374.22 L189.18,373.53 L188.80,372.78 L188.52,371.99 L188.36,371.18 L188.30,370.35 L188.36,369.52 L188.52,368.71 L188.80,367.92 L189.18,367.18 L189.66,366.48 L190.23,365.86 L190.88,365.31 L191.59,364.85 L192.36,364.48 L193.18,364.22 L194.02,364.05 L194.88,364.00 L195.74,364.05 L196.59,364.22 L197.40,364.48 L198.18,364.85 L198.89,365.31 L199.54,365.86 L200.11,366.48 L200.58,367.18 L200.97,367.92 L201.24,368.71 L201.41,369.52Z M198.27,369.11 L198.02,368.51 L197.72,367.96 L197.36,367.45 L196.96,366.99 L196.53,366.60 L196.06,366.27 L195.57,366.02 L195.06,365.85 L194.55,365.77 L194.05,365.76 L193.55,365.84 L193.08,366.00 L192.63,366.25 L192.22,366.56 L191.86,366.95 L191.54,367.40 L191.28,367.90 L191.08,368.46 L190.94,369.05 L190.86,369.67 L190.86,370.30 L190.92,370.94 L191.04,371.58 L191.23,372.19 L191.48,372.79 L191.78,373.34 L192.14,373.85 L192.54,374.31 L192.97,374.70 L193.44,375.03 L193.93,375.28 L194.44,375.45 L194.95,375.53 L195.45,375.54 L195.95,375.46 L196.42,375.30 L196.87,375.05 L197.28,374.74 L197.64,374.35 L197.96,373.90 L198.22,373.40 L198.42,372.84 L198.56,372.25 L198.64,371.63 L198.64,371.00 L198.59,370.36 L198.46,369.72Z" fill="#000" fill-rule="evenodd"/><path d="M193.95,364.00 L203.00,364.00 L202.80,366.00 L193.95,366.00 Z" fill="#000"/><path d="M225.77,370.35 L225.71,371.18 L225.54,371.99 L225.27,372.78 L224.88,373.53 L224.41,374.22 L223.84,374.84 L223.19,375.39 L222.48,375.85 L221.70,376.22 L220.89,376.49 L220.04,376.65 L219.18,376.70 L218.32,376.65 L217.48,376.49 L216.66,376.22 L215.89,375.85 L215.18,375.39 L214.53,374.84 L213.96,374.22 L213.48,373.53 L213.10,372.78 L212.82,371.99 L212.66,371.18 L212.60,370.35 L212.66,369.52 L212.82,368.71 L213.10,367.92 L213.48,367.18 L213.96,366.48 L214.53,365.86 L215.18,365.31 L215.89,364.85 L216.66,364.48 L217.48,364.22 L218.32,364.05 L219.18,364.00 L220.04,364.05 L220.89,364.22 L221.70,364.48 L222.48,364.85 L223.19,365.31 L223.84,365.86 L224.41,366.48 L224.88,367.18 L225.27,367.92 L225.54,368.71 L225.71,369.52Z M222.57,369.11 L222.32,368.51 L222.02,367.96 L221.66,367.45 L221.26,366.99 L220.83,366.60 L220.36,366.27 L219.87,366.02 L219.36,365.85 L218.85,365.77 L218.35,365.76 L217.85,365.84 L217.38,366.00 L216.93,366.25 L216.52,366.56 L216.16,366.95 L215.84,367.40 L215.58,367.90 L215.38,368.46 L215.24,369.05 L215.16,369.67 L215.16,370.30 L215.22,370.94 L215.34,371.58 L215.53,372.19 L215.78,372.79 L216.08,373.34 L216.44,373.85 L216.84,374.31 L217.27,374.70 L217.74,375.03 L218.23,375.28 L218.74,375.45 L219.25,375.53 L219.75,375.54 L220.25,375.46 L220.72,375.30 L221.17,375.05 L221.58,374.74 L221.94,374.35 L222.26,373.90 L222.52,373.40 L222.72,372.84 L222.86,372.25 L222.94,371.63 L222.94,371.00 L222.89,370.36 L222.76,369.72Z" fill="#000" fill-rule="evenodd"/><path d="M218.25,364.00 L227.30,364.00 L227.10,366.00 L218.25,366.00 Z" fill="#000"/>
<path d="M294.1,575.7 L296.0,575.7 L305.1,547.3 L303.2,547.3 Z M203.9,377.4 L205.4,377.4 L212.3,357.2 L210.8,357.2 Z" fill="#000"/>
</svg>
<div class="t yl" style="top:208.5px"><svg style="width:0.556em;height:0.71875em;vertical-align:baseline;overflow:visible" viewBox="0 -1472 1139 1472"><path d="M763,0 H583 V-1147 Q518,-1085 412.5,-1023 Q307,-961 223,-930 V-1104 Q374,-1175 487,-1276 Q600,-1377 647,-1472 H763 Z" fill="#000" stroke="#000" stroke-width="45"/></svg>000</div>
<div class="t yl" style="top:305.8px"><svg style="width:0.556em;height:0.71875em;vertical-align:baseline;overflow:visible" viewBox="0 -1472 1139 1472"><path d="M763,0 H583 V-1147 Q518,-1085 412.5,-1023 Q307,-961 223,-930 V-1104 Q374,-1175 487,-1276 Q600,-1377 647,-1472 H763 Z" fill="#000" stroke="#000" stroke-width="45"/></svg>00</div>
<div class="t yl" style="top:403.1px"><svg style="width:0.556em;height:0.71875em;vertical-align:baseline;overflow:visible" viewBox="0 -1472 1139 1472"><path d="M763,0 H583 V-1147 Q518,-1085 412.5,-1023 Q307,-961 223,-930 V-1104 Q374,-1175 487,-1276 Q600,-1377 647,-1472 H763 Z" fill="#000" stroke="#000" stroke-width="45"/></svg>0</div>
<div class="t yl" style="top:500.4px"><svg style="width:0.556em;height:0.71875em;vertical-align:baseline;overflow:visible" viewBox="0 -1472 1139 1472"><path d="M763,0 H583 V-1147 Q518,-1085 412.5,-1023 Q307,-961 223,-930 V-1104 Q374,-1175 487,-1276 Q600,-1377 647,-1472 H763 Z" fill="#000" stroke="#000" stroke-width="45"/></svg></div>
<div class="t xl" style="left:76.5px;top:524.4px"><svg style="width:0.556em;height:0.71875em;vertical-align:baseline;overflow:visible" viewBox="0 -1472 1139 1472"><path d="M763,0 H583 V-1147 Q518,-1085 412.5,-1023 Q307,-961 223,-930 V-1104 Q374,-1175 487,-1276 Q600,-1377 647,-1472 H763 Z" fill="#000" stroke="#000" stroke-width="45"/></svg>E-3</div>
<div class="t xl" style="left:144.3px;top:524.4px">0.0<svg style="width:0.556em;height:0.71875em;vertical-align:baseline;overflow:visible" viewBox="0 -1472 1139 1472"><path d="M763,0 H583 V-1147 Q518,-1085 412.5,-1023 Q307,-961 223,-930 V-1104 Q374,-1175 487,-1276 Q600,-1377 647,-1472 H763 Z" fill="#000" stroke="#000" stroke-width="45"/></svg></div>
<div class="t xl" style="left:212.1px;top:524.4px">0.<svg style="width:0.556em;height:0.71875em;vertical-align:baseline;overflow:visible" viewBox="0 -1472 1139 1472"><path d="M763,0 H583 V-1147 Q518,-1085 412.5,-1023 Q307,-961 223,-930 V-1104 Q374,-1175 487,-1276 Q600,-1377 647,-1472 H763 Z" fill="#000" stroke="#000" stroke-width="45"/></svg></div>
<div class="t xl" style="left:279.9px;top:524.4px"><svg style="width:0.556em;height:0.71875em;vertical-align:baseline;overflow:visible" viewBox="0 -1472 1139 1472"><path d="M763,0 H583 V-1147 Q518,-1085 412.5,-1023 Q307,-961 223,-930 V-1104 Q374,-1175 487,-1276 Q600,-1377 647,-1472 H763 Z" fill="#000" stroke="#000" stroke-width="45"/></svg></div>
<div class="t xl" style="left:347.7px;top:524.4px"><svg style="width:0.556em;height:0.71875em;vertical-align:baseline;overflow:visible" viewBox="0 -1472 1139 1472"><path d="M763,0 H583 V-1147 Q518,-1085 412.5,-1023 Q307,-961 223,-930 V-1104 Q374,-1175 487,-1276 Q600,-1377 647,-1472 H763 Z" fill="#000" stroke="#000" stroke-width="45"/></svg>0</div>
<div class="t xl" style="left:415.5px;top:524.4px"><svg style="width:0.556em;height:0.71875em;vertical-align:baseline;overflow:visible" viewBox="0 -1472 1139 1472"><path d="M763,0 H583 V-1147 Q518,-1085 412.5,-1023 Q307,-961 223,-930 V-1104 Q374,-1175 487,-1276 Q600,-1377 647,-1472 H763 Z" fill="#000" stroke="#000" stroke-width="45"/></svg>00</div>
<div class="t" style="left:328.9px;top:571.1px;font-size:25.5px;transform-origin:0 0;transform:scaleX(1.13);-webkit-text-stroke:0.35px #000">c</div>
<div class="t" style="left:228.6px;top:372.7px;font-size:18.5px">0</div>
<div class="t" id="ylab" style="left:8.1px;top:407px;font-size:37.5px;transform-origin:0 0;transform:rotate(-90deg);-webkit-text-stroke:0.25px #000">K<svg style="width:0.278em;height:0.735em;vertical-align:baseline;overflow:visible;position:relative;top:0.6px" viewBox="0 0 278 735"><path d="M2,735 L50,735 L276,0 L228,0 Z" fill="#000"/></svg>G<span style="font-size:23.5px;position:relative;top:14.8px;left:-1.6px">0</span></div>
</body></html>
